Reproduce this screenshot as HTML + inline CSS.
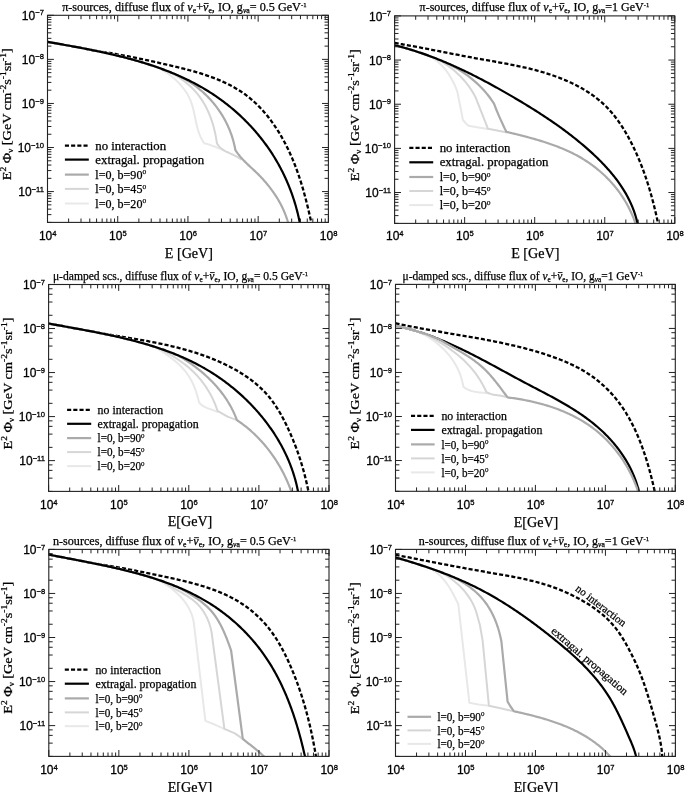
<!DOCTYPE html><html><head><meta charset="utf-8"><style>html,body{margin:0;padding:0;background:#fff;overflow:hidden;width:685px;height:792px;}svg{display:block;transform:translateZ(0)}.serif{font-family:"Liberation Serif",serif;stroke:#000;stroke-width:0.25px}.sans{font-family:"Liberation Sans",sans-serif;stroke:#000;stroke-width:0.3px}</style></head><body>
<svg width="685" height="792" viewBox="0 0 685 792">
<g><clipPath id="c0"><rect x="47.5" y="15.3" width="280.9" height="207.1"/></clipPath><g clip-path="url(#c0)" fill="none" stroke-linejoin="round"><path d="M47.5,41.9L48.95,42.15 50.4,42.4 51.85,42.66 53.31,42.91 54.77,43.17 56.23,43.42 57.69,43.68 59.15,43.93 60.62,44.19 62.09,44.45 63.55,44.71 65.03,44.98 66.5,45.24 67.97,45.5 69.45,45.77 70.93,46.04 72.4,46.31 73.88,46.58 75.37,46.85 76.85,47.13 78.33,47.4 79.81,47.68 81.3,47.97 82.79,48.25 84.27,48.54 85.76,48.82 87.25,49.12 88.74,49.41 90.22,49.71 91.71,50 93.2,50.31 94.69,50.61 96.18,50.92 97.7,51.13 99.22,51.35 100.73,51.57 102.24,51.8 103.74,52.03 105.25,52.26 106.75,52.5 108.24,52.74 109.73,52.99 111.23,53.23 112.71,53.49 114.2,53.74 115.68,54 117.16,54.26 118.64,54.53 120.12,54.8 121.6,55.07 123.07,55.34 124.54,55.62 126.02,55.9 127.49,56.19 128.96,56.47 130.42,56.76 131.89,57.06 133.36,57.35 134.82,57.65 136.29,57.95 137.75,58.25 139.22,58.56 140.68,58.86 142.15,59.17 143.61,59.49 145.08,59.8 146.55,60.12 148.01,60.44 149.48,60.76 150.95,61.08 152.42,61.41 153.89,61.73 155.36,62.06 156.83,62.39 158.31,62.72 159.78,63.06 161.26,63.39 162.74,63.73 164.22,64.07 165.71,64.4 167.19,64.75 168.68,65.09 170.17,65.43 171.66,65.78 173.15,66.13 174.65,66.48 176.14,66.84 177.63,67.2 179.13,67.56 180.62,67.93 182.11,68.3 183.6,68.68 185.09,69.06 186.58,69.45 188.07,69.84 189.56,70.24 191.04,70.64 192.52,71.05 194,71.47 195.48,71.89 196.95,72.32 198.42,72.76 199.89,73.21 201.35,73.66 202.81,74.12 204.26,74.59 205.71,75.07 207.16,75.56 208.6,76.06 210.03,76.56 211.46,77.08 212.88,77.61 214.3,78.15 215.71,78.7 217.11,79.26 218.51,79.83 219.9,80.41 221.28,81 222.65,81.61 224.02,82.23 225.38,82.86 226.73,83.5 228.07,84.16 229.4,84.83 230.72,85.52 232.04,86.22 233.34,86.93 234.63,87.66 235.92,88.4 237.19,89.16 238.45,89.93 239.7,90.72 240.94,91.53 242.17,92.35 243.39,93.19 244.59,94.04 245.79,94.92 246.97,95.81 248.13,96.71 249.29,97.64 250.43,98.57 251.57,99.53 252.68,100.5 253.79,101.49 254.89,102.49 255.97,103.5 257.04,104.53 258.1,105.58 259.15,106.64 260.18,107.71 261.21,108.8 262.22,109.9 263.22,111.01 264.21,112.14 265.19,113.28 266.15,114.43 267.11,115.59 268.05,116.76 268.98,117.95 269.9,119.15 270.81,120.35 271.71,121.57 272.59,122.8 273.47,124.04 274.33,125.29 275.18,126.54 276.03,127.81 276.86,129.09 277.68,130.37 278.48,131.66 279.28,132.96 280.07,134.27 280.85,135.59 281.61,136.91 282.37,138.25 283.11,139.58 283.84,140.93 284.57,142.28 285.28,143.63 285.98,145 286.67,146.36 287.35,147.74 288.02,149.11 288.68,150.5 289.33,151.88 289.97,153.28 290.6,154.67 291.22,156.07 291.83,157.47 292.43,158.87 293.02,160.28 293.6,161.69 294.17,163.1 294.73,164.52 295.28,165.94 295.82,167.35 296.35,168.78 296.87,170.2 297.39,171.63 297.89,173.05 298.39,174.49 298.88,175.92 299.36,177.35 299.84,178.79 300.3,180.23 300.76,181.67 301.21,183.11 301.66,184.55 302.09,186 302.52,187.44 302.95,188.89 303.37,190.34 303.78,191.79 304.18,193.25 304.58,194.7 304.97,196.16 305.36,197.61 305.74,199.07 306.12,200.53 306.49,201.99 306.86,203.45 307.23,204.92 307.58,206.38 307.94,207.84 308.29,209.31 308.63,210.78 308.98,212.24 309.32,213.71 309.65,215.18 309.98,216.65 310.31,218.12 310.64,219.59 310.96,221.06 311.28,222.53 311.6,224" style="stroke:#000;stroke-width:2.3;stroke-dasharray:4.1 2.1"/><path d="M47.5,41.9L48.95,42.15 50.4,42.4 51.85,42.66 53.31,42.91 54.77,43.17 56.23,43.42 57.69,43.68 59.15,43.93 60.62,44.19 62.09,44.45 63.55,44.71 65.03,44.98 66.5,45.24 67.97,45.5 69.45,45.77 70.93,46.04 72.4,46.31 73.88,46.58 75.37,46.85 76.85,47.13 78.33,47.4 79.81,47.68 81.3,47.97 82.79,48.25 84.27,48.54 85.76,48.82 87.25,49.12 88.74,49.41 90.22,49.71 91.71,50 93.2,50.31 94.69,50.61 96.18,50.92 97.67,51.23 99.16,51.54 100.65,51.86 102.14,52.18 103.63,52.5 105.12,52.83 106.61,53.16 108.1,53.49 109.59,53.83 111.08,54.17 112.57,54.52 114.05,54.87 115.54,55.22 117.02,55.58 118.51,55.94 119.99,56.31 121.47,56.68 122.96,57.05 124.44,57.43 125.91,57.81 127.39,58.2 128.87,58.59 130.34,58.99 131.82,59.39 133.29,59.8 134.76,60.21 136.22,60.63 137.69,61.05 139.15,61.48 140.62,61.91 142.08,62.35 143.53,62.79 144.99,63.24 146.44,63.7 147.9,64.16 149.34,64.62 150.79,65.1 152.23,65.57 153.68,66.06 155.11,66.55 156.55,67.05 157.98,67.55 159.3,68.25 160.61,68.99 161.92,69.75 163.22,70.53 164.52,71.35 165.8,72.19 167.08,73.05 168.34,73.94 169.59,74.86 170.82,75.8 172.04,76.77 173.24,77.76 174.42,78.78 175.58,79.82 176.72,80.88 177.83,81.97 178.92,83.08 179.98,84.22 181.02,85.37 182.02,86.55 182.99,87.76 183.93,88.98 184.84,90.23 185.71,91.5 186.54,92.79 187.34,94.1 188.09,95.44 188.81,96.79 189.48,98.16 190.11,99.56 190.69,100.97 191.23,102.41 191.72,103.86 192.19,105.32 192.62,106.8 193.02,108.29 193.4,109.79 193.76,111.3 194.1,112.82 194.43,114.34 194.75,115.86 195.07,117.39 195.38,118.91 195.7,120.44 196.02,121.96 196.35,123.47 196.7,124.98 197.07,126.48 197.45,127.97 197.86,129.45 198.3,130.91 198.78,132.36 199.28,133.79 199.84,135.21 200.43,136.6 201.07,137.97 201.77,139.32 202.52,140.64 203.33,141.93 204.2,143.2L205.28,143.47 206.35,143.77 207.41,144.08 208.47,144.4 209.52,144.75 210.57,145.11 211.61,145.48 212.65,145.86 213.69,146.25 214.72,146.64 215.76,147.05 216.79,147.46 217.81,147.87 218.84,148.28 219.87,148.69 220.9,149.1 221.93,149.51 222.96,149.91 224,150.3" style="stroke:#e8e8e8;stroke-width:2"/><path d="M47.5,41.9L48.95,42.15 50.4,42.4 51.85,42.66 53.31,42.91 54.77,43.17 56.23,43.42 57.69,43.68 59.15,43.93 60.62,44.19 62.09,44.45 63.55,44.71 65.03,44.98 66.5,45.24 67.97,45.5 69.45,45.77 70.93,46.04 72.4,46.31 73.88,46.58 75.37,46.85 76.85,47.13 78.33,47.4 79.81,47.68 81.3,47.97 82.79,48.25 84.27,48.54 85.76,48.82 87.25,49.12 88.74,49.41 90.22,49.71 91.71,50 93.2,50.31 94.69,50.61 96.18,50.92 97.67,51.23 99.16,51.54 100.65,51.86 102.14,52.18 103.63,52.5 105.12,52.83 106.61,53.16 108.1,53.49 109.59,53.83 111.08,54.17 112.57,54.52 114.05,54.87 115.54,55.22 117.02,55.58 118.51,55.94 119.99,56.31 121.47,56.68 122.96,57.05 124.44,57.43 125.91,57.81 127.39,58.2 128.87,58.59 130.34,58.99 131.82,59.39 133.29,59.8 134.76,60.21 136.22,60.63 137.69,61.05 139.15,61.48 140.62,61.91 142.08,62.35 143.53,62.79 144.99,63.24 146.44,63.7 147.9,64.16 149.34,64.62 150.79,65.1 152.23,65.57 153.68,66.06 155.11,66.55 156.55,67.05 157.98,67.55 159.41,68.06 160.84,68.57 162.26,69.1 163.73,69.65 165.19,70.23 166.64,70.84 168.07,71.47 169.49,72.13 170.89,72.82 172.28,73.53 173.65,74.26 175,75.02 176.35,75.8 177.67,76.61 178.98,77.44 180.27,78.29 181.54,79.17 182.79,80.07 184.03,80.99 185.24,81.94 186.44,82.91 187.62,83.9 188.77,84.91 189.91,85.94 191.02,86.99 192.12,88.06 193.19,89.16 194.24,90.27 195.27,91.4 196.27,92.56 197.25,93.73 198.21,94.92 199.14,96.13 200.05,97.36 200.93,98.6 201.79,99.86 202.62,101.15 203.43,102.44 204.21,103.76 204.96,105.09 205.69,106.43 206.4,107.79 207.08,109.17 207.74,110.56 208.38,111.96 208.99,113.37 209.58,114.79 210.14,116.22 210.69,117.67 211.21,119.12 211.71,120.59 212.19,122.06 212.65,123.54 213.09,125.02 213.51,126.52 213.91,128.02 214.29,129.52 214.65,131.03 215,132.54 215.32,134.06 215.63,135.58 215.92,137.1 216.19,138.63 216.44,140.15 216.68,141.68 216.9,143.2L217.76,144.64 218.73,145.95 219.79,147.12 220.93,148.18 222.15,149.15 223.43,150.02 224.76,150.82 226.14,151.57 227.55,152.26 228.98,152.93 230.43,153.58 231.89,154.22 233.34,154.88 234.77,155.56 236.19,156.28 237.57,157.05 238.9,157.88 240.18,158.79 241.4,159.8" style="stroke:#d6d6d6;stroke-width:2"/><path d="M47.5,41.9L48.95,42.15 50.4,42.4 51.85,42.66 53.31,42.91 54.77,43.17 56.23,43.42 57.69,43.68 59.15,43.93 60.62,44.19 62.09,44.45 63.55,44.71 65.03,44.98 66.5,45.24 67.97,45.5 69.45,45.77 70.93,46.04 72.4,46.31 73.88,46.58 75.37,46.85 76.85,47.13 78.33,47.4 79.81,47.68 81.3,47.97 82.79,48.25 84.27,48.54 85.76,48.82 87.25,49.12 88.74,49.41 90.22,49.71 91.71,50 93.2,50.31 94.69,50.61 96.18,50.92 97.67,51.23 99.16,51.54 100.65,51.86 102.14,52.18 103.63,52.5 105.12,52.83 106.61,53.16 108.1,53.49 109.59,53.83 111.08,54.17 112.57,54.52 114.05,54.87 115.54,55.22 117.02,55.58 118.51,55.94 119.99,56.31 121.47,56.68 122.96,57.05 124.44,57.43 125.91,57.81 127.39,58.2 128.87,58.59 130.34,58.99 131.82,59.39 133.29,59.8 134.76,60.21 136.22,60.63 137.69,61.05 139.15,61.48 140.62,61.91 142.08,62.35 143.53,62.79 144.99,63.24 146.44,63.7 147.9,64.16 149.34,64.62 150.79,65.1 152.23,65.57 153.68,66.06 155.11,66.55 156.55,67.05 157.98,67.55 159.41,68.06 160.84,68.57 162.26,69.1 163.68,69.62 165.1,70.16 166.52,70.7 167.93,71.25 169.33,71.81 170.74,72.37 172.17,72.93 173.59,73.51 175,74.12 176.4,74.74 177.79,75.39 179.17,76.05 180.54,76.74 181.9,77.44 183.25,78.17 184.58,78.91 185.91,79.68 187.22,80.46 188.52,81.27 189.81,82.09 191.08,82.93 192.34,83.79 193.59,84.66 194.83,85.56 196.05,86.47 197.26,87.4 198.46,88.35 199.64,89.31 200.8,90.29 201.96,91.29 203.09,92.3 204.22,93.33 205.32,94.38 206.42,95.44 207.49,96.52 208.55,97.61 209.6,98.72 210.63,99.84 211.64,100.98 212.64,102.13 213.61,103.29 214.58,104.47 215.52,105.67 216.45,106.87 217.36,108.09 218.25,109.33 219.12,110.57 219.97,111.83 220.81,113.1 221.63,114.38 222.43,115.68 223.2,116.99 223.96,118.31 224.7,119.64 225.42,120.98 226.12,122.33 226.8,123.69 227.46,125.06 228.1,126.45 228.71,127.84 229.31,129.24 229.88,130.66 230.44,132.08 230.97,133.51 231.48,134.95 231.96,136.4 232.43,137.86 232.87,139.32 233.28,140.8 233.68,142.28 234.05,143.77 234.4,145.27 234.72,146.77 235.02,148.28 235.3,149.8L236.11,151.1 236.97,152.36 237.86,153.6 238.78,154.81 239.74,156 240.72,157.16 241.73,158.3 242.76,159.42 243.81,160.53 244.89,161.62 245.97,162.7 247.07,163.78 248.19,164.84 249.31,165.9 250.43,166.95 251.56,168 252.69,169.06 253.82,170.11 254.95,171.17 256.07,172.24 257.18,173.32 258.28,174.4 259.37,175.5 260.44,176.61 261.51,177.73 262.56,178.86 263.6,180.01 264.63,181.16 265.64,182.32 266.64,183.5 267.63,184.69 268.6,185.88 269.56,187.09 270.5,188.31 271.42,189.54 272.33,190.79 273.23,192.04 274.1,193.3 274.96,194.58 275.81,195.87 276.63,197.17 277.44,198.48 278.23,199.8 279,201.13 279.75,202.47 280.48,203.83 281.19,205.19 281.89,206.57 282.56,207.96 283.21,209.36 283.84,210.77 284.45,212.2 285.03,213.63 285.6,215.08 286.14,216.54 286.66,218.01 287.16,219.49 287.63,220.98 288.08,222.48 288.5,224" style="stroke:#aaaaaa;stroke-width:2.2"/><path d="M47.5,41.9L48.95,42.15 50.4,42.4 51.85,42.66 53.31,42.91 54.77,43.17 56.23,43.42 57.69,43.68 59.15,43.93 60.62,44.19 62.09,44.45 63.55,44.71 65.03,44.98 66.5,45.24 67.97,45.5 69.45,45.77 70.93,46.04 72.4,46.31 73.88,46.58 75.37,46.85 76.85,47.13 78.33,47.4 79.81,47.68 81.3,47.97 82.79,48.25 84.27,48.54 85.76,48.82 87.25,49.12 88.74,49.41 90.22,49.71 91.71,50 93.2,50.31 94.69,50.61 96.18,50.92 97.67,51.23 99.16,51.54 100.65,51.86 102.14,52.18 103.63,52.5 105.12,52.83 106.61,53.16 108.1,53.49 109.59,53.83 111.08,54.17 112.57,54.52 114.05,54.87 115.54,55.22 117.02,55.58 118.51,55.94 119.99,56.31 121.47,56.68 122.96,57.05 124.44,57.43 125.91,57.81 127.39,58.2 128.87,58.59 130.34,58.99 131.82,59.39 133.29,59.8 134.76,60.21 136.22,60.63 137.69,61.05 139.15,61.48 140.62,61.91 142.08,62.35 143.53,62.79 144.99,63.24 146.44,63.7 147.9,64.16 149.34,64.62 150.79,65.1 152.23,65.57 153.68,66.06 155.11,66.55 156.55,67.05 157.98,67.55 159.41,68.06 160.84,68.57 162.26,69.1 163.68,69.62 165.1,70.16 166.52,70.7 167.93,71.25 169.33,71.81 170.74,72.37 172.14,72.94 173.54,73.51 174.93,74.1 176.32,74.69 177.7,75.29 179.09,75.89 180.46,76.51 181.84,77.13 183.21,77.76 184.57,78.4 185.93,79.04 187.29,79.69 188.64,80.35 189.99,81.02 191.33,81.7 192.67,82.38 194,83.08 195.33,83.78 196.66,84.49 197.98,85.21 199.29,85.93 200.6,86.67 201.9,87.41 203.2,88.17 204.5,88.93 205.78,89.7 207.07,90.48 208.34,91.27 209.62,92.07 210.88,92.88 212.14,93.69 213.4,94.52 214.64,95.36 215.89,96.2 217.12,97.05 218.35,97.92 219.58,98.79 220.8,99.67 222.01,100.56 223.21,101.45 224.41,102.36 225.61,103.27 226.79,104.2 227.97,105.13 229.15,106.07 230.31,107.02 231.47,107.98 232.62,108.94 233.77,109.92 234.91,110.9 236.04,111.89 237.16,112.89 238.28,113.89 239.39,114.91 240.49,115.93 241.59,116.96 242.67,118 243.75,119.05 244.83,120.11 245.89,121.17 246.95,122.24 248,123.32 249.04,124.41 250.07,125.5 251.09,126.6 252.11,127.71 253.12,128.83 254.12,129.95 255.11,131.08 256.09,132.22 257.07,133.37 258.04,134.52 258.99,135.69 259.94,136.86 260.88,138.03 261.81,139.21 262.74,140.4 263.65,141.6 264.55,142.81 265.45,144.02 266.34,145.24 267.21,146.46 268.08,147.69 268.94,148.93 269.79,150.18 270.63,151.43 271.46,152.69 272.28,153.96 273.09,155.23 273.89,156.51 274.68,157.79 275.46,159.08 276.23,160.38 276.99,161.69 277.74,163 278.48,164.32 279.21,165.64 279.93,166.97 280.64,168.3 281.34,169.64 282.03,170.99 282.71,172.34 283.38,173.7 284.04,175.06 284.69,176.43 285.33,177.81 285.95,179.19 286.57,180.57 287.18,181.96 287.77,183.35 288.36,184.75 288.93,186.15 289.49,187.56 290.05,188.97 290.59,190.39 291.12,191.81 291.64,193.24 292.15,194.67 292.65,196.1 293.14,197.54 293.61,198.98 294.08,200.43 294.53,201.88 294.98,203.33 295.41,204.79 295.83,206.25 296.24,207.71 296.64,209.18 297.03,210.65 297.4,212.12 297.77,213.59 298.12,215.07 298.46,216.55 298.79,218.04 299.11,219.53 299.42,221.02 299.71,222.51 300,224" style="stroke:#000;stroke-width:2.2"/></g><path d="M47.5,222.4v-6.4M47.5,15.3v6.4M68.64,222.4v-3.9M68.64,15.3v3.9M81.01,222.4v-3.9M81.01,15.3v3.9M89.78,222.4v-3.9M89.78,15.3v3.9M96.59,222.4v-3.9M96.59,15.3v3.9M102.15,222.4v-3.9M102.15,15.3v3.9M106.85,222.4v-3.9M106.85,15.3v3.9M110.92,222.4v-3.9M110.92,15.3v3.9M114.51,222.4v-3.9M114.51,15.3v3.9M117.72,222.4v-6.4M117.72,15.3v6.4M138.86,222.4v-3.9M138.86,15.3v3.9M151.23,222.4v-3.9M151.23,15.3v3.9M160,222.4v-3.9M160,15.3v3.9M166.81,222.4v-3.9M166.81,15.3v3.9M172.37,222.4v-3.9M172.37,15.3v3.9M177.07,222.4v-3.9M177.07,15.3v3.9M181.14,222.4v-3.9M181.14,15.3v3.9M184.74,222.4v-3.9M184.74,15.3v3.9M187.95,222.4v-6.4M187.95,15.3v6.4M209.09,222.4v-3.9M209.09,15.3v3.9M221.46,222.4v-3.9M221.46,15.3v3.9M230.23,222.4v-3.9M230.23,15.3v3.9M237.04,222.4v-3.9M237.04,15.3v3.9M242.6,222.4v-3.9M242.6,15.3v3.9M247.3,222.4v-3.9M247.3,15.3v3.9M251.37,222.4v-3.9M251.37,15.3v3.9M254.96,222.4v-3.9M254.96,15.3v3.9M258.17,222.4v-6.4M258.17,15.3v6.4M279.31,222.4v-3.9M279.31,15.3v3.9M291.68,222.4v-3.9M291.68,15.3v3.9M300.45,222.4v-3.9M300.45,15.3v3.9M307.26,222.4v-3.9M307.26,15.3v3.9M312.82,222.4v-3.9M312.82,15.3v3.9M317.52,222.4v-3.9M317.52,15.3v3.9M321.59,222.4v-3.9M321.59,15.3v3.9M325.19,222.4v-3.9M325.19,15.3v3.9M328.4,222.4v-6.4M328.4,15.3v6.4M47.5,222.4h3.9M328.4,222.4h-3.9M47.5,214.64h3.9M328.4,214.64h-3.9M47.5,209.13h3.9M328.4,209.13h-3.9M47.5,204.86h3.9M328.4,204.86h-3.9M47.5,201.37h3.9M328.4,201.37h-3.9M47.5,198.42h3.9M328.4,198.42h-3.9M47.5,195.87h3.9M328.4,195.87h-3.9M47.5,193.61h3.9M328.4,193.61h-3.9M47.5,191.59h6.4M328.4,191.59h-6.4M47.5,178.33h3.9M328.4,178.33h-3.9M47.5,170.57h3.9M328.4,170.57h-3.9M47.5,165.06h3.9M328.4,165.06h-3.9M47.5,160.79h3.9M328.4,160.79h-3.9M47.5,157.3h3.9M328.4,157.3h-3.9M47.5,154.35h3.9M328.4,154.35h-3.9M47.5,151.79h3.9M328.4,151.79h-3.9M47.5,149.54h3.9M328.4,149.54h-3.9M47.5,147.52h6.4M328.4,147.52h-6.4M47.5,134.25h3.9M328.4,134.25h-3.9M47.5,126.49h3.9M328.4,126.49h-3.9M47.5,120.99h3.9M328.4,120.99h-3.9M47.5,116.71h3.9M328.4,116.71h-3.9M47.5,113.22h3.9M328.4,113.22h-3.9M47.5,110.27h3.9M328.4,110.27h-3.9M47.5,107.72h3.9M328.4,107.72h-3.9M47.5,105.46h3.9M328.4,105.46h-3.9M47.5,103.45h6.4M328.4,103.45h-6.4M47.5,90.18h3.9M328.4,90.18h-3.9M47.5,82.42h3.9M328.4,82.42h-3.9M47.5,76.91h3.9M328.4,76.91h-3.9M47.5,72.64h3.9M328.4,72.64h-3.9M47.5,69.15h3.9M328.4,69.15h-3.9M47.5,66.2h3.9M328.4,66.2h-3.9M47.5,63.64h3.9M328.4,63.64h-3.9M47.5,61.39h3.9M328.4,61.39h-3.9M47.5,59.37h6.4M328.4,59.37h-6.4M47.5,46.11h3.9M328.4,46.11h-3.9M47.5,38.35h3.9M328.4,38.35h-3.9M47.5,32.84h3.9M328.4,32.84h-3.9M47.5,28.57h3.9M328.4,28.57h-3.9M47.5,25.08h3.9M328.4,25.08h-3.9M47.5,22.13h3.9M328.4,22.13h-3.9M47.5,19.57h3.9M328.4,19.57h-3.9M47.5,17.32h3.9M328.4,17.32h-3.9M47.5,15.3h6.4M328.4,15.3h-6.4" stroke="#222" stroke-width="1" fill="none"/><rect x="47.5" y="15.3" width="280.9" height="207.1" fill="none" stroke="#222" stroke-width="1.1"/><text class="sans" x="38.9" y="239.5" font-size="12">10<tspan font-size="7.6" dy="-3.9">4</tspan></text><text class="sans" x="109.12" y="239.5" font-size="12">10<tspan font-size="7.6" dy="-3.9">5</tspan></text><text class="sans" x="179.35" y="239.5" font-size="12">10<tspan font-size="7.6" dy="-3.9">6</tspan></text><text class="sans" x="249.57" y="239.5" font-size="12">10<tspan font-size="7.6" dy="-3.9">7</tspan></text><text class="sans" x="319.8" y="239.5" font-size="12">10<tspan font-size="7.6" dy="-3.9">8</tspan></text><text class="sans" x="43.9" y="196.39" font-size="12" text-anchor="end">10<tspan font-size="7.6" dy="-4.7">−11</tspan></text><text class="sans" x="43.9" y="152.32" font-size="12" text-anchor="end">10<tspan font-size="7.6" dy="-4.7">−10</tspan></text><text class="sans" x="43.9" y="108.25" font-size="12" text-anchor="end">10<tspan font-size="7.6" dy="-4.7">−9</tspan></text><text class="sans" x="43.9" y="64.17" font-size="12" text-anchor="end">10<tspan font-size="7.6" dy="-4.7">−8</tspan></text><text class="sans" x="43.9" y="20.1" font-size="12" text-anchor="end">10<tspan font-size="7.6" dy="-4.7">−7</tspan></text><text class="serif ttl" x="62.2" y="10.7" font-size="11.8" textLength="244.3" lengthAdjust="spacingAndGlyphs">π-sources, diffuse flux of <tspan font-style="italic">ν</tspan><tspan font-size="7.5" dy="2">e</tspan><tspan dy="-2">+</tspan><tspan font-style="italic">ν</tspan><tspan font-size="7.5" dy="2">e</tspan><tspan dy="-2">, IO, g</tspan><tspan font-size="7.5" dy="2"><tspan font-style="italic">ν</tspan>a</tspan><tspan dy="-2">= 0.5 GeV</tspan><tspan font-size="6.5" dy="-3.6">-1</tspan></text><text class="serif" x="188.9" y="257.6" font-size="14.1" text-anchor="middle">E [GeV]</text><text class="serif" transform="translate(11.2,114.3) rotate(-90)" font-size="13.5" text-anchor="middle" textLength="132" lengthAdjust="spacingAndGlyphs">E<tspan font-size="9" dy="-5">2</tspan><tspan dy="5"> Φ</tspan><tspan font-size="8.5" dy="2">ν</tspan><tspan dy="-2"> [GeV cm</tspan><tspan font-size="9" dy="-5">-2</tspan><tspan dy="5">s</tspan><tspan font-size="9" dy="-5">-1</tspan><tspan dy="5">sr</tspan><tspan font-size="9" dy="-5">-1</tspan><tspan dy="5">]</tspan></text></g>
<g><clipPath id="c1"><rect x="394.6" y="15.9" width="280.2" height="207.5"/></clipPath><g clip-path="url(#c1)" fill="none" stroke-linejoin="round"><path d="M394.6,43L396.11,43.25 397.61,43.49 399.12,43.75 400.62,44 402.12,44.25 403.61,44.51 405.11,44.77 406.6,45.04 408.1,45.3 409.59,45.57 411.08,45.84 412.56,46.11 414.05,46.38 415.54,46.66 417.02,46.93 418.5,47.21 419.98,47.49 421.47,47.77 422.94,48.05 424.42,48.34 425.9,48.62 427.38,48.9 428.85,49.19 430.33,49.48 431.81,49.77 433.28,50.05 434.75,50.34 436.23,50.63 437.7,50.92 439.17,51.21 440.65,51.5 442.12,51.79 443.59,52.08 445.07,52.37 446.54,52.66 448.01,52.95 449.49,53.24 450.96,53.53 452.43,53.82 453.91,54.11 455.38,54.4 456.86,54.69 458.34,54.97 459.81,55.26 461.29,55.54 462.77,55.82 464.25,56.11 465.73,56.39 467.21,56.67 468.69,56.94 470.18,57.22 471.66,57.49 473.15,57.77 474.64,58.04 476.12,58.31 477.62,58.58 479.11,58.84 480.6,59.11 482.09,59.37 483.59,59.64 485.08,59.9 486.58,60.16 488.07,60.43 489.57,60.69 491.07,60.96 492.57,61.22 494.06,61.49 495.56,61.75 497.06,62.02 498.56,62.29 500.06,62.57 501.55,62.84 503.05,63.12 504.55,63.4 506.04,63.68 507.54,63.96 509.03,64.25 510.52,64.54 512.02,64.84 513.51,65.14 515,65.44 516.49,65.75 517.98,66.06 519.46,66.37 520.95,66.7 522.43,67.02 523.91,67.36 525.39,67.69 526.87,68.04 528.34,68.39 529.82,68.74 531.29,69.1 532.76,69.47 534.22,69.85 535.69,70.23 537.15,70.63 538.6,71.02 540.06,71.43 541.51,71.84 542.96,72.27 544.41,72.7 545.85,73.14 547.29,73.59 548.73,74.05 550.16,74.51 551.59,74.99 553.02,75.48 554.44,75.98 555.86,76.48 557.27,77 558.68,77.53 560.09,78.07 561.49,78.62 562.88,79.18 564.28,79.76 565.67,80.35 567.05,80.94 568.43,81.55 569.8,82.18 571.17,82.81 572.53,83.46 573.89,84.12 575.23,84.8 576.58,85.48 577.91,86.18 579.24,86.9 580.56,87.62 581.87,88.36 583.17,89.12 584.46,89.89 585.75,90.67 587.02,91.47 588.29,92.28 589.54,93.1 590.78,93.94 592.01,94.8 593.23,95.67 594.44,96.55 595.63,97.45 596.82,98.36 597.99,99.29 599.14,100.24 600.29,101.2 601.42,102.18 602.53,103.17 603.63,104.18 604.72,105.2 605.79,106.24 606.84,107.3 607.88,108.37 608.9,109.46 609.91,110.57 610.9,111.69 611.88,112.82 612.85,113.97 613.8,115.13 614.73,116.3 615.65,117.49 616.56,118.68 617.46,119.9 618.34,121.12 619.21,122.35 620.07,123.59 620.91,124.85 621.74,126.11 622.56,127.39 623.37,128.67 624.17,129.96 624.95,131.26 625.73,132.57 626.49,133.89 627.24,135.21 627.98,136.54 628.72,137.88 629.44,139.22 630.15,140.57 630.85,141.92 631.54,143.28 632.23,144.64 632.9,146 633.57,147.37 634.22,148.75 634.87,150.13 635.51,151.51 636.14,152.9 636.76,154.29 637.37,155.68 637.98,157.08 638.57,158.48 639.16,159.89 639.74,161.29 640.31,162.7 640.87,164.12 641.43,165.54 641.98,166.96 642.52,168.38 643.05,169.8 643.57,171.23 644.09,172.66 644.6,174.09 645.1,175.53 645.59,176.97 646.08,178.41 646.56,179.85 647.04,181.29 647.5,182.74 647.96,184.18 648.41,185.63 648.86,187.08 649.3,188.53 649.73,189.99 650.16,191.44 650.58,192.9 650.99,194.35 651.4,195.81 651.8,197.27 652.2,198.73 652.59,200.19 652.97,201.65 653.35,203.11 653.73,204.57 654.09,206.03 654.45,207.49 654.81,208.95 655.16,210.41 655.51,211.87 655.85,213.33 656.18,214.79 656.52,216.25 656.84,217.71 657.16,219.17 657.48,220.63 657.79,222.09 658.1,223.54 658.4,225" style="stroke:#000;stroke-width:2.3;stroke-dasharray:4.1 2.1"/><path d="M394.6,45.2L396.08,45.57 397.55,45.95 399.02,46.33 400.49,46.72 401.95,47.12 403.42,47.53 404.88,47.94 406.33,48.36 407.78,48.78 409.23,49.21 410.68,49.65 412.13,50.1 413.57,50.55 415.01,51.01 416.44,51.47 417.88,51.94 419.31,52.42 420.73,52.9 422.16,53.39 423.58,53.88 425,54.38 426.42,54.89 427.83,55.4 429.29,56.11 430.71,56.86 432.1,57.66 433.45,58.51 434.76,59.41 436.04,60.35 437.29,61.33 438.5,62.35 439.68,63.41 440.82,64.51 441.93,65.64 443.01,66.8 444.06,68 445.07,69.22 446.06,70.48 447.01,71.76 447.93,73.06 448.82,74.39 449.68,75.74 450.52,77.11 451.32,78.5 452.09,79.9 452.84,81.32 453.56,82.75 454.25,84.19 454.91,85.64 455.55,87.1 456.16,88.56 456.74,90.03 457.3,91.5L461.4,112 462.9,120L466,123.5 468.5,125.8L478.4,127.4 487.9,128.9" style="stroke:#e8e8e8;stroke-width:2"/><path d="M394.6,45.2L396.08,45.57 397.55,45.95 399.02,46.33 400.49,46.72 401.95,47.12 403.42,47.53 404.88,47.94 406.33,48.36 407.78,48.78 409.23,49.21 410.68,49.65 412.13,50.1 413.57,50.55 415.01,51.01 416.44,51.47 417.88,51.94 419.31,52.42 420.73,52.9 422.16,53.39 423.58,53.88 425,54.38 426.42,54.89 427.83,55.4 429.25,55.92 430.66,56.45 432.06,56.97 433.47,57.51 434.87,58.05 436.27,58.6 437.65,59.32 439.01,60.07 440.37,60.84 441.71,61.64 443.05,62.46 444.37,63.3 445.67,64.17 446.97,65.05 448.25,65.96 449.51,66.89 450.76,67.84 452,68.81 453.21,69.8 454.42,70.81 455.6,71.84 456.77,72.9 457.92,73.97 459.05,75.06 460.17,76.16 461.26,77.29 462.33,78.44 463.39,79.6 464.42,80.78 465.43,81.98 466.42,83.19 467.38,84.43 468.33,85.67 469.25,86.94 470.14,88.22 471.01,89.51 471.86,90.83 472.68,92.15 473.48,93.49 474.24,94.85 474.99,96.22 475.7,97.6L488,128.8L498.4,130.7 507.1,132.4" style="stroke:#d6d6d6;stroke-width:2"/><path d="M394.6,45.2L396.08,45.57 397.55,45.95 399.02,46.33 400.49,46.72 401.95,47.12 403.42,47.53 404.88,47.94 406.33,48.36 407.78,48.78 409.23,49.21 410.68,49.65 412.13,50.1 413.57,50.55 415.01,51.01 416.44,51.47 417.88,51.94 419.31,52.42 420.73,52.9 422.16,53.39 423.58,53.88 425,54.38 426.42,54.89 427.83,55.4 429.25,55.92 430.66,56.45 432.06,56.97 433.47,57.51 434.87,58.05 436.27,58.6 437.67,59.15 439.06,59.7 440.45,60.27 441.85,60.83 443.23,61.41 444.65,62.05 446.05,62.71 447.45,63.38 448.85,64.07 450.23,64.78 451.61,65.5 452.98,66.25 454.35,67 455.7,67.78 457.05,68.57 458.38,69.37 459.71,70.2 461.03,71.04 462.33,71.89 463.63,72.77 464.91,73.65 466.19,74.56 467.45,75.48 468.7,76.42 469.93,77.37 471.16,78.34 472.36,79.33 473.56,80.33 474.74,81.35 475.91,82.38 477.06,83.43 478.2,84.5 479.32,85.58 480.42,86.67 481.51,87.79 482.58,88.92 483.64,90.06 484.68,91.22 485.7,92.4 486.7,93.59 487.68,94.8 488.64,96.03 489.59,97.27 490.51,98.52 491.41,99.79 492.3,101.08 493.16,102.38 494,103.7L494.57,105.21 495.15,106.72 495.75,108.22 496.35,109.72 496.97,111.21 497.59,112.7 498.22,114.19 498.86,115.67 499.51,117.15 500.17,118.62 500.83,120.1 501.5,121.57 502.17,123.03 502.85,124.5 503.53,125.96 504.22,127.43 504.91,128.88 505.6,130.34 506.3,131.8L507.74,132.15 509.19,132.5 510.64,132.85 512.1,133.21 513.55,133.56 515.01,133.92 516.47,134.28 517.94,134.65 519.4,135.01 520.87,135.38 522.34,135.76 523.81,136.14 525.28,136.52 526.75,136.91 528.22,137.3 529.69,137.7 531.16,138.1 532.63,138.51 534.1,138.92 535.57,139.34 537.04,139.77 538.51,140.2 539.97,140.64 541.43,141.09 542.89,141.55 544.35,142.01 545.81,142.48 547.26,142.96 548.71,143.44 550.16,143.94 551.6,144.44 553.04,144.96 554.47,145.48 555.9,146.01 557.33,146.55 558.75,147.11 560.16,147.67 561.57,148.24 562.97,148.83 564.37,149.43 565.76,150.03 567.15,150.65 568.53,151.28 569.9,151.93 571.26,152.58 572.62,153.25 573.97,153.93 575.31,154.63 576.65,155.34 577.97,156.06 579.29,156.8 580.59,157.55 581.89,158.31 583.18,159.09 584.46,159.89 585.73,160.7 586.99,161.52 588.24,162.35 589.48,163.2 590.71,164.07 591.93,164.95 593.13,165.84 594.33,166.75 595.52,167.66 596.69,168.6 597.86,169.54 599.01,170.5 600.15,171.48 601.28,172.46 602.4,173.46 603.51,174.48 604.6,175.5 605.68,176.54 606.75,177.6 607.8,178.66 608.85,179.74 609.88,180.83 610.89,181.93 611.9,183.05 612.89,184.18 613.86,185.32 614.83,186.47 615.77,187.64 616.71,188.81 617.63,190 618.53,191.21 619.42,192.42 620.3,193.65 621.16,194.89 622.01,196.14 622.84,197.4 623.65,198.67 624.45,199.96 625.24,201.25 626.01,202.56 626.76,203.88 627.49,205.21 628.21,206.56 628.92,207.91 629.6,209.27 630.27,210.65 630.92,212.04 631.56,213.43 632.18,214.84 632.78,216.26 633.36,217.69 633.92,219.13 634.47,220.58 635,222.05 635.51,223.52 636,225" style="stroke:#aaaaaa;stroke-width:2.2"/><path d="M394.6,45.2L396.08,45.57 397.55,45.95 399.02,46.33 400.49,46.72 401.95,47.12 403.42,47.53 404.88,47.94 406.33,48.36 407.78,48.78 409.23,49.21 410.68,49.65 412.13,50.1 413.57,50.55 415.01,51.01 416.44,51.47 417.88,51.94 419.31,52.42 420.73,52.9 422.16,53.39 423.58,53.88 425,54.38 426.42,54.89 427.83,55.4 429.25,55.92 430.66,56.45 432.06,56.97 433.47,57.51 434.87,58.05 436.27,58.6 437.67,59.15 439.06,59.7 440.45,60.27 441.85,60.83 443.23,61.41 444.62,61.99 446,62.57 447.38,63.16 448.76,63.75 450.14,64.35 451.52,64.95 452.89,65.56 454.26,66.17 455.63,66.79 457,67.41 458.36,68.03 459.72,68.66 461.08,69.3 462.44,69.94 463.8,70.58 465.15,71.23 466.51,71.88 467.86,72.54 469.21,73.2 470.56,73.86 471.9,74.53 473.25,75.2 474.59,75.88 475.93,76.56 477.27,77.24 478.61,77.93 479.94,78.62 481.28,79.31 482.61,80.01 483.94,80.71 485.27,81.42 486.6,82.13 487.93,82.84 489.26,83.55 490.58,84.27 491.9,84.99 493.23,85.71 494.55,86.44 495.86,87.17 497.18,87.9 498.5,88.64 499.82,89.38 501.13,90.12 502.44,90.86 503.75,91.61 505.07,92.36 506.38,93.11 507.68,93.86 508.99,94.62 510.3,95.37 511.6,96.13 512.91,96.9 514.21,97.66 515.52,98.43 516.82,99.2 518.12,99.97 519.42,100.74 520.72,101.52 522.01,102.3 523.31,103.08 524.6,103.86 525.9,104.65 527.19,105.44 528.48,106.23 529.76,107.02 531.05,107.82 532.33,108.62 533.61,109.42 534.89,110.23 536.17,111.04 537.45,111.85 538.72,112.67 539.99,113.49 541.26,114.31 542.53,115.14 543.79,115.97 545.05,116.8 546.31,117.64 547.57,118.48 548.82,119.32 550.07,120.17 551.32,121.02 552.57,121.88 553.81,122.74 555.05,123.6 556.29,124.47 557.52,125.34 558.75,126.22 559.98,127.1 561.2,127.98 562.42,128.87 563.63,129.76 564.85,130.66 566.06,131.56 567.26,132.47 568.46,133.38 569.66,134.29 570.86,135.21 572.05,136.14 573.23,137.07 574.42,138.01 575.59,138.94 576.77,139.89 577.94,140.84 579.1,141.79 580.27,142.76 581.42,143.72 582.57,144.69 583.72,145.67 584.87,146.65 586,147.64 587.14,148.63 588.27,149.63 589.39,150.63 590.51,151.64 591.62,152.66 592.73,153.68 593.84,154.7 594.93,155.74 596.02,156.78 597.11,157.82 598.19,158.87 599.26,159.93 600.32,161 601.38,162.07 602.43,163.15 603.47,164.23 604.5,165.32 605.52,166.42 606.54,167.53 607.54,168.64 608.54,169.77 609.53,170.89 610.5,172.03 611.47,173.18 612.42,174.33 613.36,175.49 614.3,176.66 615.22,177.83 616.13,179.02 617.02,180.21 617.91,181.41 618.78,182.62 619.64,183.84 620.48,185.07 621.31,186.31 622.13,187.55 622.93,188.81 623.72,190.07 624.5,191.35 625.26,192.63 626,193.92 626.73,195.22 627.44,196.54 628.14,197.86 628.81,199.19 629.48,200.53 630.12,201.89 630.75,203.25 631.36,204.62 631.96,206.01 632.53,207.4 633.09,208.8 633.62,210.22 634.14,211.65 634.64,213.09 635.12,214.53 635.58,216 636.02,217.47 636.44,218.95 636.83,220.45 637.21,221.95 637.57,223.47 637.9,225" style="stroke:#000;stroke-width:2.2"/></g><path d="M394.6,223.4v-6.4M394.6,15.9v6.4M415.69,223.4v-3.9M415.69,15.9v3.9M428.02,223.4v-3.9M428.02,15.9v3.9M436.77,223.4v-3.9M436.77,15.9v3.9M443.56,223.4v-3.9M443.56,15.9v3.9M449.11,223.4v-3.9M449.11,15.9v3.9M453.8,223.4v-3.9M453.8,15.9v3.9M457.86,223.4v-3.9M457.86,15.9v3.9M461.44,223.4v-3.9M461.44,15.9v3.9M464.65,223.4v-6.4M464.65,15.9v6.4M485.74,223.4v-3.9M485.74,15.9v3.9M498.07,223.4v-3.9M498.07,15.9v3.9M506.82,223.4v-3.9M506.82,15.9v3.9M513.61,223.4v-3.9M513.61,15.9v3.9M519.16,223.4v-3.9M519.16,15.9v3.9M523.85,223.4v-3.9M523.85,15.9v3.9M527.91,223.4v-3.9M527.91,15.9v3.9M531.49,223.4v-3.9M531.49,15.9v3.9M534.7,223.4v-6.4M534.7,15.9v6.4M555.79,223.4v-3.9M555.79,15.9v3.9M568.12,223.4v-3.9M568.12,15.9v3.9M576.87,223.4v-3.9M576.87,15.9v3.9M583.66,223.4v-3.9M583.66,15.9v3.9M589.21,223.4v-3.9M589.21,15.9v3.9M593.9,223.4v-3.9M593.9,15.9v3.9M597.96,223.4v-3.9M597.96,15.9v3.9M601.54,223.4v-3.9M601.54,15.9v3.9M604.75,223.4v-6.4M604.75,15.9v6.4M625.84,223.4v-3.9M625.84,15.9v3.9M638.17,223.4v-3.9M638.17,15.9v3.9M646.92,223.4v-3.9M646.92,15.9v3.9M653.71,223.4v-3.9M653.71,15.9v3.9M659.26,223.4v-3.9M659.26,15.9v3.9M663.95,223.4v-3.9M663.95,15.9v3.9M668.01,223.4v-3.9M668.01,15.9v3.9M671.59,223.4v-3.9M671.59,15.9v3.9M674.8,223.4v-6.4M674.8,15.9v6.4M394.6,223.4h3.9M674.8,223.4h-3.9M394.6,215.62h3.9M674.8,215.62h-3.9M394.6,210.11h3.9M674.8,210.11h-3.9M394.6,205.83h3.9M674.8,205.83h-3.9M394.6,202.33h3.9M674.8,202.33h-3.9M394.6,199.37h3.9M674.8,199.37h-3.9M394.6,196.81h3.9M674.8,196.81h-3.9M394.6,194.56h3.9M674.8,194.56h-3.9M394.6,192.53h6.4M674.8,192.53h-6.4M394.6,179.24h3.9M674.8,179.24h-3.9M394.6,171.47h3.9M674.8,171.47h-3.9M394.6,165.95h3.9M674.8,165.95h-3.9M394.6,161.67h3.9M674.8,161.67h-3.9M394.6,158.17h3.9M674.8,158.17h-3.9M394.6,155.22h3.9M674.8,155.22h-3.9M394.6,152.66h3.9M674.8,152.66h-3.9M394.6,150.4h3.9M674.8,150.4h-3.9M394.6,148.38h6.4M674.8,148.38h-6.4M394.6,135.08h3.9M674.8,135.08h-3.9M394.6,127.31h3.9M674.8,127.31h-3.9M394.6,121.79h3.9M674.8,121.79h-3.9M394.6,117.51h3.9M674.8,117.51h-3.9M394.6,114.01h3.9M674.8,114.01h-3.9M394.6,111.06h3.9M674.8,111.06h-3.9M394.6,108.5h3.9M674.8,108.5h-3.9M394.6,106.24h3.9M674.8,106.24h-3.9M394.6,104.22h6.4M674.8,104.22h-6.4M394.6,90.92h3.9M674.8,90.92h-3.9M394.6,83.15h3.9M674.8,83.15h-3.9M394.6,77.63h3.9M674.8,77.63h-3.9M394.6,73.35h3.9M674.8,73.35h-3.9M394.6,69.86h3.9M674.8,69.86h-3.9M394.6,66.9h3.9M674.8,66.9h-3.9M394.6,64.34h3.9M674.8,64.34h-3.9M394.6,62.08h3.9M674.8,62.08h-3.9M394.6,60.06h6.4M674.8,60.06h-6.4M394.6,46.77h3.9M674.8,46.77h-3.9M394.6,38.99h3.9M674.8,38.99h-3.9M394.6,33.47h3.9M674.8,33.47h-3.9M394.6,29.19h3.9M674.8,29.19h-3.9M394.6,25.7h3.9M674.8,25.7h-3.9M394.6,22.74h3.9M674.8,22.74h-3.9M394.6,20.18h3.9M674.8,20.18h-3.9M394.6,17.92h3.9M674.8,17.92h-3.9M394.6,15.9h6.4M674.8,15.9h-6.4" stroke="#222" stroke-width="1" fill="none"/><rect x="394.6" y="15.9" width="280.2" height="207.5" fill="none" stroke="#222" stroke-width="1.1"/><text class="sans" x="386" y="240.3" font-size="12">10<tspan font-size="7.6" dy="-3.9">4</tspan></text><text class="sans" x="456.05" y="240.3" font-size="12">10<tspan font-size="7.6" dy="-3.9">5</tspan></text><text class="sans" x="526.1" y="240.3" font-size="12">10<tspan font-size="7.6" dy="-3.9">6</tspan></text><text class="sans" x="596.15" y="240.3" font-size="12">10<tspan font-size="7.6" dy="-3.9">7</tspan></text><text class="sans" x="666.2" y="240.3" font-size="12">10<tspan font-size="7.6" dy="-3.9">8</tspan></text><text class="sans" x="391" y="197.33" font-size="12" text-anchor="end">10<tspan font-size="7.6" dy="-4.7">−11</tspan></text><text class="sans" x="391" y="153.18" font-size="12" text-anchor="end">10<tspan font-size="7.6" dy="-4.7">−10</tspan></text><text class="sans" x="391" y="109.02" font-size="12" text-anchor="end">10<tspan font-size="7.6" dy="-4.7">−9</tspan></text><text class="sans" x="391" y="64.86" font-size="12" text-anchor="end">10<tspan font-size="7.6" dy="-4.7">−8</tspan></text><text class="sans" x="391" y="20.7" font-size="12" text-anchor="end">10<tspan font-size="7.6" dy="-4.7">−7</tspan></text><text class="serif ttl" x="419.6" y="10.7" font-size="11.8" textLength="229.6" lengthAdjust="spacingAndGlyphs">π-sources, diffuse flux of <tspan font-style="italic">ν</tspan><tspan font-size="7.5" dy="2">e</tspan><tspan dy="-2">+</tspan><tspan font-style="italic">ν</tspan><tspan font-size="7.5" dy="2">e</tspan><tspan dy="-2">, IO, g</tspan><tspan font-size="7.5" dy="2"><tspan font-style="italic">ν</tspan>a</tspan><tspan dy="-2">=1 GeV</tspan><tspan font-size="6.5" dy="-3.6">-1</tspan></text><text class="serif" x="535.3" y="258" font-size="14.1" text-anchor="middle">E [GeV]</text><text class="serif" transform="translate(358.6,115.25) rotate(-90)" font-size="13.5" text-anchor="middle" textLength="132" lengthAdjust="spacingAndGlyphs">E<tspan font-size="9" dy="-5">2</tspan><tspan dy="5"> Φ</tspan><tspan font-size="8.5" dy="2">ν</tspan><tspan dy="-2"> [GeV cm</tspan><tspan font-size="9" dy="-5">-2</tspan><tspan dy="5">s</tspan><tspan font-size="9" dy="-5">-1</tspan><tspan dy="5">sr</tspan><tspan font-size="9" dy="-5">-1</tspan><tspan dy="5">]</tspan></text></g>
<g><clipPath id="c2"><rect x="48.6" y="284.5" width="280.4" height="206.9"/></clipPath><g clip-path="url(#c2)" fill="none" stroke-linejoin="round"><path d="M48.6,323.5L50.06,323.77 51.53,324.04 53,324.32 54.47,324.58 55.94,324.85 57.41,325.12 58.88,325.39 60.35,325.66 61.83,325.93 63.31,326.2 64.78,326.46 66.26,326.73 67.74,327 69.22,327.27 70.7,327.54 72.18,327.81 73.67,328.08 75.15,328.35 76.63,328.62 78.12,328.89 79.6,329.17 81.09,329.44 82.57,329.72 84.06,330 85.55,330.27 87.03,330.55 88.52,330.84 90.01,331.12 91.49,331.41 92.98,331.69 94.47,331.98 95.95,332.27 97.42,332.53 98.89,332.78 100.35,333.04 101.83,333.29 103.3,333.54 104.78,333.79 106.25,334.04 107.73,334.29 109.21,334.54 110.7,334.78 112.18,335.03 113.67,335.28 115.16,335.52 116.64,335.77 118.14,336.02 119.63,336.26 121.12,336.51 122.61,336.76 124.11,337.01 125.6,337.26 127.1,337.51 128.6,337.76 130.09,338.02 131.59,338.27 133.09,338.53 134.59,338.79 136.09,339.05 137.59,339.31 139.09,339.58 140.59,339.85 142.09,340.12 143.59,340.39 145.09,340.67 146.59,340.94 148.08,341.23 149.58,341.51 151.08,341.8 152.58,342.09 154.07,342.39 155.57,342.68 157.07,342.99 158.56,343.29 160.05,343.61 161.54,343.92 163.03,344.24 164.52,344.57 166.01,344.9 167.5,345.23 168.98,345.57 170.47,345.91 171.95,346.26 173.43,346.62 174.91,346.98 176.38,347.35 177.86,347.72 179.33,348.1 180.8,348.48 182.27,348.88 183.73,349.27 185.2,349.68 186.66,350.09 188.11,350.51 189.57,350.93 191.02,351.36 192.47,351.8 193.92,352.25 195.36,352.71 196.8,353.17 198.24,353.64 199.68,354.12 201.11,354.6 202.53,355.1 203.96,355.6 205.38,356.11 206.8,356.63 208.21,357.16 209.62,357.7 211.02,358.25 212.42,358.81 213.82,359.37 215.21,359.95 216.6,360.53 217.99,361.13 219.37,361.73 220.74,362.35 222.12,362.98 223.48,363.61 224.84,364.26 226.2,364.92 227.55,365.59 228.9,366.27 230.24,366.96 231.58,367.66 232.91,368.37 234.24,369.1 235.55,369.83 236.87,370.58 238.17,371.34 239.47,372.12 240.76,372.9 242.04,373.7 243.31,374.51 244.57,375.34 245.83,376.17 247.07,377.02 248.3,377.89 249.53,378.77 250.74,379.66 251.94,380.56 253.12,381.48 254.3,382.42 255.46,383.37 256.61,384.33 257.74,385.31 258.86,386.3 259.97,387.31 261.06,388.33 262.14,389.37 263.2,390.42 264.24,391.49 265.27,392.58 266.28,393.68 267.27,394.8 268.25,395.94 269.2,397.09 270.15,398.26 271.07,399.44 271.98,400.64 272.87,401.85 273.75,403.07 274.61,404.31 275.45,405.56 276.28,406.82 277.1,408.09 277.9,409.38 278.69,410.67 279.47,411.98 280.24,413.29 280.99,414.61 281.73,415.95 282.46,417.29 283.18,418.63 283.88,419.99 284.58,421.35 285.27,422.71 285.94,424.09 286.61,425.46 287.27,426.84 287.92,428.23 288.56,429.62 289.2,431.01 289.82,432.4 290.44,433.8 291.05,435.2 291.65,436.61 292.25,438.01 292.83,439.42 293.41,440.84 293.98,442.25 294.54,443.67 295.09,445.09 295.64,446.51 296.17,447.94 296.7,449.37 297.22,450.8 297.73,452.23 298.24,453.66 298.73,455.1 299.22,456.54 299.7,457.98 300.17,459.42 300.63,460.87 301.09,462.31 301.53,463.76 301.97,465.21 302.4,466.66 302.82,468.12 303.23,469.57 303.64,471.03 304.03,472.48 304.42,473.94 304.8,475.4 305.17,476.86 305.53,478.33 305.89,479.79 306.24,481.26 306.57,482.72 306.9,484.19 307.22,485.65 307.54,487.12 307.84,488.59 308.14,490.06 308.42,491.53 308.7,493" style="stroke:#000;stroke-width:2.3;stroke-dasharray:4.1 2.1"/><path d="M48.6,323.5L50.06,323.77 51.53,324.04 53,324.32 54.47,324.58 55.94,324.85 57.41,325.12 58.88,325.39 60.35,325.66 61.83,325.93 63.31,326.2 64.78,326.46 66.26,326.73 67.74,327 69.22,327.27 70.7,327.54 72.18,327.81 73.67,328.08 75.15,328.35 76.63,328.62 78.12,328.89 79.6,329.17 81.09,329.44 82.57,329.72 84.06,330 85.55,330.27 87.03,330.55 88.52,330.84 90.01,331.12 91.49,331.41 92.98,331.69 94.47,331.98 95.95,332.27 97.44,332.57 98.92,332.86 100.41,333.16 101.89,333.46 103.38,333.77 104.86,334.07 106.35,334.38 107.83,334.69 109.31,335.01 110.79,335.33 112.28,335.65 113.76,335.97 115.23,336.3 116.71,336.63 118.19,336.97 119.67,337.3 121.14,337.65 122.62,337.99 124.09,338.34 125.56,338.7 127.03,339.06 128.5,339.42 129.96,339.79 131.43,340.16 132.89,340.53 134.36,340.91 135.82,341.3 137.28,341.69 138.73,342.09 140.19,342.49 141.64,342.89 143.09,343.3 144.54,343.72 145.99,344.14 147.43,344.57 148.88,345 150.32,345.44 151.75,345.88 153.19,346.33 154.62,346.79 155.89,347.6 157.16,348.42 158.44,349.24 159.72,350.07 161,350.91 162.28,351.75 163.56,352.61 164.83,353.47 166.1,354.34 167.36,355.23 168.62,356.13 169.86,357.04 171.1,357.96 172.32,358.9 173.53,359.85 174.72,360.82 175.9,361.81 177.06,362.82 178.2,363.84 179.32,364.88 180.42,365.95 181.49,367.04 182.54,368.14 183.56,369.27 184.56,370.43 185.52,371.61 186.46,372.82 187.36,374.05 188.23,375.31 189.06,376.59 189.87,377.9 190.64,379.23 191.38,380.58 192.09,381.95 192.77,383.33 193.42,384.74 194.04,386.16 194.63,387.6 195.19,389.04 195.72,390.5 196.22,391.97 196.7,393.45 197.15,394.93 197.57,396.42 197.97,397.91 198.34,399.41 198.68,400.9 199,402.4L199.76,403.27 200.58,404.07 201.44,404.8 202.34,405.46 203.28,406.07 204.26,406.63 205.26,407.14 206.29,407.62 207.34,408.07 208.4,408.49 209.48,408.89 210.56,409.28 211.65,409.67 212.74,410.05 213.82,410.44 214.89,410.85 215.95,411.27 216.98,411.72 218,412.2" style="stroke:#e8e8e8;stroke-width:2"/><path d="M48.6,323.5L50.06,323.77 51.53,324.04 53,324.32 54.47,324.58 55.94,324.85 57.41,325.12 58.88,325.39 60.35,325.66 61.83,325.93 63.31,326.2 64.78,326.46 66.26,326.73 67.74,327 69.22,327.27 70.7,327.54 72.18,327.81 73.67,328.08 75.15,328.35 76.63,328.62 78.12,328.89 79.6,329.17 81.09,329.44 82.57,329.72 84.06,330 85.55,330.27 87.03,330.55 88.52,330.84 90.01,331.12 91.49,331.41 92.98,331.69 94.47,331.98 95.95,332.27 97.44,332.57 98.92,332.86 100.41,333.16 101.89,333.46 103.38,333.77 104.86,334.07 106.35,334.38 107.83,334.69 109.31,335.01 110.79,335.33 112.28,335.65 113.76,335.97 115.23,336.3 116.71,336.63 118.19,336.97 119.67,337.3 121.14,337.65 122.62,337.99 124.09,338.34 125.56,338.7 127.03,339.06 128.5,339.42 129.96,339.79 131.43,340.16 132.89,340.53 134.36,340.91 135.82,341.3 137.28,341.69 138.73,342.09 140.19,342.49 141.64,342.89 143.09,343.3 144.54,343.72 145.99,344.14 147.43,344.57 148.88,345 150.32,345.44 151.75,345.88 153.19,346.33 154.62,346.79 156.05,347.25 157.48,347.72 158.91,348.2 160.27,348.91 161.63,349.64 162.98,350.37 164.34,351.12 165.69,351.87 167.04,352.64 168.38,353.42 169.72,354.2 171.06,355 172.38,355.82 173.7,356.64 175.02,357.48 176.32,358.33 177.62,359.19 178.9,360.07 180.18,360.96 181.44,361.86 182.69,362.78 183.93,363.71 185.16,364.66 186.37,365.63 187.57,366.6 188.75,367.6 189.92,368.61 191.07,369.64 192.2,370.68 193.32,371.74 194.42,372.82 195.5,373.92 196.55,375.03 197.59,376.17 198.62,377.31 199.62,378.48 200.6,379.66 201.56,380.86 202.5,382.07 203.42,383.3 204.33,384.54 205.21,385.8 206.07,387.07 206.91,388.36 207.73,389.67 208.53,390.99 209.31,392.32 210.07,393.66 210.81,395.02 211.52,396.39 212.22,397.78 212.89,399.18 213.54,400.59 214.17,402.01 214.78,403.45 215.37,404.9 215.94,406.36 216.48,407.83 217,409.31 217.5,410.8L227.5,416.6 236.9,420.1" style="stroke:#d6d6d6;stroke-width:2"/><path d="M48.6,323.5L50.06,323.77 51.53,324.04 53,324.32 54.47,324.58 55.94,324.85 57.41,325.12 58.88,325.39 60.35,325.66 61.83,325.93 63.31,326.2 64.78,326.46 66.26,326.73 67.74,327 69.22,327.27 70.7,327.54 72.18,327.81 73.67,328.08 75.15,328.35 76.63,328.62 78.12,328.89 79.6,329.17 81.09,329.44 82.57,329.72 84.06,330 85.55,330.27 87.03,330.55 88.52,330.84 90.01,331.12 91.49,331.41 92.98,331.69 94.47,331.98 95.95,332.27 97.44,332.57 98.92,332.86 100.41,333.16 101.89,333.46 103.38,333.77 104.86,334.07 106.35,334.38 107.83,334.69 109.31,335.01 110.79,335.33 112.28,335.65 113.76,335.97 115.23,336.3 116.71,336.63 118.19,336.97 119.67,337.3 121.14,337.65 122.62,337.99 124.09,338.34 125.56,338.7 127.03,339.06 128.5,339.42 129.96,339.79 131.43,340.16 132.89,340.53 134.36,340.91 135.82,341.3 137.28,341.69 138.73,342.09 140.19,342.49 141.64,342.89 143.09,343.3 144.54,343.72 145.99,344.14 147.43,344.57 148.88,345 150.32,345.44 151.75,345.88 153.19,346.33 154.62,346.79 156.05,347.25 157.48,347.72 158.91,348.2 160.33,348.68 161.75,349.17 163.17,349.66 164.58,350.16 165.99,350.67 167.4,351.19 168.81,351.71 170.21,352.24 171.61,352.78 173,353.32 174.4,353.87 175.78,354.43 177.17,355 178.48,355.75 179.79,356.51 181.09,357.29 182.39,358.08 183.68,358.88 184.97,359.7 186.25,360.53 187.52,361.37 188.79,362.22 190.05,363.09 191.31,363.96 192.55,364.85 193.79,365.76 195.02,366.67 196.25,367.6 197.46,368.54 198.66,369.49 199.86,370.45 201.04,371.43 202.22,372.42 203.39,373.42 204.54,374.43 205.68,375.45 206.82,376.49 207.94,377.54 209.05,378.6 210.14,379.67 211.23,380.76 212.3,381.85 213.36,382.96 214.4,384.08 215.43,385.21 216.45,386.35 217.45,387.51 218.44,388.67 219.42,389.85 220.37,391.04 221.31,392.24 222.24,393.46 223.15,394.68 224.04,395.92 224.92,397.16 225.78,398.42 226.62,399.69 227.44,400.98 228.24,402.27 229.03,403.57 229.8,404.89 230.55,406.22 231.27,407.55 231.98,408.9 232.67,410.26 233.34,411.64 233.99,413.02 234.61,414.41 235.22,415.82 235.8,417.23 236.36,418.66 236.9,420.1L238.18,420.97 239.45,421.85 240.71,422.74 241.96,423.66 243.2,424.58 244.43,425.52 245.64,426.48 246.84,427.45 248.04,428.43 249.22,429.43 250.39,430.44 251.54,431.47 252.69,432.51 253.82,433.56 254.94,434.63 256.05,435.71 257.15,436.8 258.24,437.9 259.31,439.02 260.37,440.14 261.42,441.28 262.46,442.44 263.48,443.6 264.49,444.77 265.49,445.96 266.47,447.16 267.45,448.36 268.41,449.58 269.35,450.81 270.29,452.05 271.21,453.3 272.11,454.55 273.01,455.82 273.89,457.1 274.75,458.39 275.61,459.68 276.45,460.99 277.27,462.3 278.08,463.62 278.88,464.95 279.67,466.29 280.44,467.63 281.19,468.99 281.93,470.35 282.66,471.72 283.37,473.09 284.07,474.48 284.76,475.87 285.42,477.26 286.08,478.66 286.72,480.07 287.34,481.49 287.95,482.91 288.55,484.33 289.13,485.77 289.69,487.2 290.24,488.65 290.78,490.09 291.3,491.54 291.8,493" style="stroke:#aaaaaa;stroke-width:2.2"/><path d="M48.6,323.5L50.06,323.77 51.53,324.04 53,324.32 54.47,324.58 55.94,324.85 57.41,325.12 58.88,325.39 60.35,325.66 61.83,325.93 63.31,326.2 64.78,326.46 66.26,326.73 67.74,327 69.22,327.27 70.7,327.54 72.18,327.81 73.67,328.08 75.15,328.35 76.63,328.62 78.12,328.89 79.6,329.17 81.09,329.44 82.57,329.72 84.06,330 85.55,330.27 87.03,330.55 88.52,330.84 90.01,331.12 91.49,331.41 92.98,331.69 94.47,331.98 95.95,332.27 97.44,332.57 98.92,332.86 100.41,333.16 101.89,333.46 103.38,333.77 104.86,334.07 106.35,334.38 107.83,334.69 109.31,335.01 110.79,335.33 112.28,335.65 113.76,335.97 115.23,336.3 116.71,336.63 118.19,336.97 119.67,337.3 121.14,337.65 122.62,337.99 124.09,338.34 125.56,338.7 127.03,339.06 128.5,339.42 129.96,339.79 131.43,340.16 132.89,340.53 134.36,340.91 135.82,341.3 137.28,341.69 138.73,342.09 140.19,342.49 141.64,342.89 143.09,343.3 144.54,343.72 145.99,344.14 147.43,344.57 148.88,345 150.32,345.44 151.75,345.88 153.19,346.33 154.62,346.79 156.05,347.25 157.48,347.72 158.91,348.2 160.33,348.68 161.75,349.17 163.17,349.66 164.58,350.16 165.99,350.67 167.4,351.19 168.81,351.71 170.21,352.24 171.61,352.78 173,353.32 174.4,353.87 175.78,354.43 177.17,355 178.55,355.57 179.93,356.15 181.31,356.74 182.68,357.34 184.05,357.95 185.41,358.56 186.77,359.18 188.13,359.82 189.48,360.46 190.83,361.1 192.18,361.76 193.52,362.43 194.86,363.1 196.19,363.78 197.52,364.48 198.84,365.18 200.16,365.89 201.48,366.61 202.79,367.34 204.09,368.08 205.39,368.83 206.69,369.59 207.98,370.36 209.27,371.14 210.55,371.93 211.83,372.73 213.1,373.53 214.37,374.35 215.63,375.18 216.89,376.01 218.14,376.86 219.39,377.72 220.63,378.58 221.86,379.45 223.09,380.34 224.31,381.23 225.53,382.13 226.74,383.04 227.94,383.96 229.14,384.89 230.33,385.82 231.52,386.77 232.7,387.72 233.87,388.68 235.03,389.66 236.19,390.63 237.34,391.62 238.49,392.62 239.62,393.62 240.75,394.63 241.87,395.65 242.99,396.68 244.1,397.72 245.2,398.76 246.29,399.82 247.37,400.88 248.45,401.94 249.51,403.02 250.57,404.1 251.63,405.19 252.67,406.29 253.7,407.4 254.73,408.51 255.75,409.63 256.76,410.76 257.76,411.89 258.75,413.03 259.73,414.18 260.7,415.34 261.66,416.5 262.62,417.67 263.56,418.85 264.5,420.03 265.43,421.22 266.34,422.42 267.25,423.62 268.15,424.83 269.03,426.04 269.91,427.27 270.78,428.5 271.63,429.73 272.48,430.97 273.32,432.22 274.14,433.47 274.95,434.73 275.76,436 276.55,437.27 277.33,438.55 278.11,439.83 278.87,441.12 279.61,442.42 280.35,443.72 281.08,445.03 281.79,446.34 282.5,447.66 283.19,448.99 283.87,450.32 284.53,451.66 285.19,453 285.83,454.35 286.47,455.71 287.08,457.07 287.69,458.44 288.29,459.81 288.87,461.19 289.44,462.58 289.99,463.97 290.54,465.36 291.07,466.77 291.59,468.18 292.09,469.59 292.58,471.01 293.06,472.44 293.52,473.87 293.98,475.31 294.41,476.75 294.84,478.2 295.25,479.65 295.64,481.11 296.03,482.58 296.39,484.05 296.75,485.53 297.09,487.01 297.41,488.5 297.72,490 298.02,491.5 298.3,493" style="stroke:#000;stroke-width:2.2"/></g><path d="M48.6,491.4v-6.4M48.6,284.5v6.4M69.7,491.4v-3.9M69.7,284.5v3.9M82.05,491.4v-3.9M82.05,284.5v3.9M90.8,491.4v-3.9M90.8,284.5v3.9M97.6,491.4v-3.9M97.6,284.5v3.9M103.15,491.4v-3.9M103.15,284.5v3.9M107.84,491.4v-3.9M107.84,284.5v3.9M111.91,491.4v-3.9M111.91,284.5v3.9M115.49,491.4v-3.9M115.49,284.5v3.9M118.7,491.4v-6.4M118.7,284.5v6.4M139.8,491.4v-3.9M139.8,284.5v3.9M152.15,491.4v-3.9M152.15,284.5v3.9M160.9,491.4v-3.9M160.9,284.5v3.9M167.7,491.4v-3.9M167.7,284.5v3.9M173.25,491.4v-3.9M173.25,284.5v3.9M177.94,491.4v-3.9M177.94,284.5v3.9M182.01,491.4v-3.9M182.01,284.5v3.9M185.59,491.4v-3.9M185.59,284.5v3.9M188.8,491.4v-6.4M188.8,284.5v6.4M209.9,491.4v-3.9M209.9,284.5v3.9M222.25,491.4v-3.9M222.25,284.5v3.9M231,491.4v-3.9M231,284.5v3.9M237.8,491.4v-3.9M237.8,284.5v3.9M243.35,491.4v-3.9M243.35,284.5v3.9M248.04,491.4v-3.9M248.04,284.5v3.9M252.11,491.4v-3.9M252.11,284.5v3.9M255.69,491.4v-3.9M255.69,284.5v3.9M258.9,491.4v-6.4M258.9,284.5v6.4M280,491.4v-3.9M280,284.5v3.9M292.35,491.4v-3.9M292.35,284.5v3.9M301.1,491.4v-3.9M301.1,284.5v3.9M307.9,491.4v-3.9M307.9,284.5v3.9M313.45,491.4v-3.9M313.45,284.5v3.9M318.14,491.4v-3.9M318.14,284.5v3.9M322.21,491.4v-3.9M322.21,284.5v3.9M325.79,491.4v-3.9M325.79,284.5v3.9M329,491.4v-6.4M329,284.5v6.4M48.6,491.4h3.9M329,491.4h-3.9M48.6,478.15h3.9M329,478.15h-3.9M48.6,470.39h3.9M329,470.39h-3.9M48.6,464.89h3.9M329,464.89h-3.9M48.6,460.62h6.4M329,460.62h-6.4M48.6,447.37h3.9M329,447.37h-3.9M48.6,434.11h3.9M329,434.11h-3.9M48.6,426.36h3.9M329,426.36h-3.9M48.6,420.86h3.9M329,420.86h-3.9M48.6,416.59h6.4M329,416.59h-6.4M48.6,403.34h3.9M329,403.34h-3.9M48.6,390.08h3.9M329,390.08h-3.9M48.6,382.33h3.9M329,382.33h-3.9M48.6,376.83h3.9M329,376.83h-3.9M48.6,372.56h6.4M329,372.56h-6.4M48.6,359.31h3.9M329,359.31h-3.9M48.6,346.05h3.9M329,346.05h-3.9M48.6,338.3h3.9M329,338.3h-3.9M48.6,332.8h3.9M329,332.8h-3.9M48.6,328.53h6.4M329,328.53h-6.4M48.6,315.28h3.9M329,315.28h-3.9M48.6,302.02h3.9M329,302.02h-3.9M48.6,294.27h3.9M329,294.27h-3.9M48.6,288.77h3.9M329,288.77h-3.9M48.6,284.5h6.4M329,284.5h-6.4" stroke="#222" stroke-width="1" fill="none"/><rect x="48.6" y="284.5" width="280.4" height="206.9" fill="none" stroke="#222" stroke-width="1.1"/><text class="sans" x="40" y="508.9" font-size="12">10<tspan font-size="7.6" dy="-3.9">4</tspan></text><text class="sans" x="110.1" y="508.9" font-size="12">10<tspan font-size="7.6" dy="-3.9">5</tspan></text><text class="sans" x="180.2" y="508.9" font-size="12">10<tspan font-size="7.6" dy="-3.9">6</tspan></text><text class="sans" x="250.3" y="508.9" font-size="12">10<tspan font-size="7.6" dy="-3.9">7</tspan></text><text class="sans" x="320.4" y="508.9" font-size="12">10<tspan font-size="7.6" dy="-3.9">8</tspan></text><text class="sans" x="45" y="465.42" font-size="12" text-anchor="end">10<tspan font-size="7.6" dy="-4.7">−11</tspan></text><text class="sans" x="45" y="421.39" font-size="12" text-anchor="end">10<tspan font-size="7.6" dy="-4.7">−10</tspan></text><text class="sans" x="45" y="377.36" font-size="12" text-anchor="end">10<tspan font-size="7.6" dy="-4.7">−9</tspan></text><text class="sans" x="45" y="333.33" font-size="12" text-anchor="end">10<tspan font-size="7.6" dy="-4.7">−8</tspan></text><text class="sans" x="45" y="289.3" font-size="12" text-anchor="end">10<tspan font-size="7.6" dy="-4.7">−7</tspan></text><text class="serif ttl" x="52.9" y="279.8" font-size="11.8" textLength="255" lengthAdjust="spacingAndGlyphs">μ-damped scs., diffuse flux of <tspan font-style="italic">ν</tspan><tspan font-size="7.5" dy="2">e</tspan><tspan dy="-2">+</tspan><tspan font-style="italic">ν</tspan><tspan font-size="7.5" dy="2">e</tspan><tspan dy="-2">, IO, g</tspan><tspan font-size="7.5" dy="2"><tspan font-style="italic">ν</tspan>a</tspan><tspan dy="-2">= 0.5 GeV</tspan><tspan font-size="6.5" dy="-3.6">-1</tspan></text><text class="serif" x="190" y="526.3" font-size="14.1" text-anchor="middle">E[GeV]</text><text class="serif" transform="translate(12.4,383.55) rotate(-90)" font-size="13.5" text-anchor="middle" textLength="132" lengthAdjust="spacingAndGlyphs">E<tspan font-size="9" dy="-5">2</tspan><tspan dy="5"> Φ</tspan><tspan font-size="8.5" dy="2">ν</tspan><tspan dy="-2"> [GeV cm</tspan><tspan font-size="9" dy="-5">-2</tspan><tspan dy="5">s</tspan><tspan font-size="9" dy="-5">-1</tspan><tspan dy="5">sr</tspan><tspan font-size="9" dy="-5">-1</tspan><tspan dy="5">]</tspan></text></g>
<g><clipPath id="c3"><rect x="395.5" y="284.4" width="279.8" height="206.9"/></clipPath><g clip-path="url(#c3)" fill="none" stroke-linejoin="round"><path d="M395.5,323.2L396.97,323.53 398.44,323.85 399.91,324.17 401.38,324.49 402.85,324.8 404.32,325.11 405.79,325.42 407.27,325.72 408.74,326.02 410.22,326.31 411.69,326.61 413.17,326.9 414.65,327.19 416.13,327.47 417.61,327.75 419.09,328.03 420.57,328.31 422.05,328.58 423.53,328.86 425.02,329.13 426.5,329.4 427.98,329.67 429.47,329.93 430.95,330.19 432.44,330.46 433.92,330.72 435.41,330.98 436.9,331.24 438.38,331.49 439.87,331.75 441.36,332 442.85,332.26 444.34,332.51 445.82,332.77 447.31,333.02 448.8,333.27 450.29,333.53 451.78,333.78 453.27,334.03 454.76,334.28 456.25,334.54 457.74,334.79 459.23,335.04 460.72,335.3 462.21,335.55 463.7,335.81 465.18,336.06 466.67,336.32 468.16,336.58 469.65,336.84 471.14,337.1 472.63,337.36 474.12,337.62 475.6,337.89 477.09,338.15 478.58,338.42 480.06,338.69 481.55,338.97 483.04,339.24 484.52,339.52 486.01,339.8 487.49,340.08 488.98,340.36 490.46,340.65 491.94,340.94 493.42,341.23 494.9,341.53 496.39,341.83 497.87,342.13 499.35,342.43 500.82,342.74 502.3,343.05 503.78,343.37 505.26,343.69 506.73,344.01 508.21,344.34 509.68,344.67 511.15,345.01 512.63,345.35 514.1,345.69 515.57,346.04 517.04,346.39 518.5,346.75 519.97,347.11 521.44,347.48 522.9,347.86 524.36,348.23 525.83,348.62 527.29,349.01 528.75,349.4 530.21,349.8 531.66,350.2 533.12,350.62 534.57,351.03 536.03,351.46 537.48,351.88 538.93,352.32 540.38,352.76 541.83,353.21 543.27,353.66 544.72,354.13 546.16,354.59 547.6,355.07 549.04,355.55 550.48,356.04 551.91,356.54 553.34,357.05 554.77,357.56 556.19,358.08 557.61,358.62 559.02,359.16 560.43,359.71 561.84,360.27 563.24,360.84 564.63,361.42 566.02,362.01 567.41,362.61 568.78,363.23 570.15,363.85 571.52,364.49 572.87,365.13 574.22,365.79 575.56,366.46 576.9,367.15 578.22,367.84 579.54,368.55 580.85,369.28 582.15,370.01 583.44,370.76 584.72,371.53 585.99,372.31 587.25,373.1 588.5,373.91 589.73,374.73 590.96,375.57 592.18,376.42 593.38,377.29 594.58,378.18 595.76,379.07 596.93,379.99 598.09,380.92 599.24,381.86 600.38,382.81 601.5,383.78 602.61,384.77 603.72,385.77 604.8,386.78 605.88,387.8 606.95,388.84 608,389.9 609.04,390.96 610.07,392.04 611.08,393.13 612.08,394.24 613.07,395.35 614.05,396.48 615.01,397.62 615.97,398.78 616.9,399.94 617.83,401.12 618.74,402.31 619.64,403.51 620.53,404.72 621.4,405.94 622.26,407.18 623.11,408.43 623.94,409.68 624.76,410.95 625.57,412.22 626.36,413.51 627.14,414.81 627.91,416.11 628.67,417.43 629.42,418.75 630.15,420.08 630.87,421.42 631.58,422.77 632.28,424.12 632.97,425.48 633.65,426.85 634.31,428.23 634.96,429.61 635.61,431 636.24,432.4 636.86,433.8 637.48,435.21 638.08,436.62 638.67,438.04 639.25,439.46 639.82,440.88 640.38,442.31 640.94,443.75 641.48,445.19 642.02,446.63 642.54,448.07 643.06,449.52 643.56,450.97 644.06,452.42 644.55,453.88 645.04,455.33 645.51,456.79 645.98,458.25 646.43,459.71 646.88,461.17 647.33,462.63 647.76,464.09 648.19,465.55 648.61,467.01 649.02,468.47 649.43,469.93 649.83,471.39 650.22,472.85 650.61,474.31 650.99,475.76 651.36,477.21 651.73,478.66 652.09,480.11 652.44,481.56 652.8,483 653.14,484.44 653.48,485.88 653.81,487.31 654.14,488.74 654.47,490.16 654.79,491.58 655.1,493" style="stroke:#000;stroke-width:2.3;stroke-dasharray:4.1 2.1"/><path d="M395.5,325.8L397,326.11 398.5,326.43 399.99,326.76 401.48,327.1 402.96,327.45 404.44,327.81 405.91,328.18 407.38,328.56 408.85,328.95 410.31,329.35 411.77,329.76 413.22,330.18 414.67,330.6 416.12,331.04 417.56,331.48 419,331.93 420.44,332.4 421.87,332.86 423.3,333.34 424.72,333.83 426.14,334.32 427.56,334.82 428.97,335.33 430.38,335.84 431.79,336.37 433.2,336.9 434.6,337.43 436,337.98 437.39,338.53 438.79,339.09 440.18,339.65 441.56,340.22 442.95,340.8 444.33,341.38 445.71,341.97 447.09,342.57 448.46,343.17 449.84,343.77 451.21,344.39 452.58,345 453.94,345.63 455.3,346.25 456.67,346.89 458.03,347.52 459.38,348.17 460.74,348.81 462.09,349.46 463.45,350.12 464.8,350.78 466.15,351.44 467.5,352.11 468.84,352.78 470.19,353.46 471.53,354.14 472.87,354.82 474.21,355.5 475.55,356.19 476.89,356.88 478.23,357.58 479.57,358.28 480.9,358.98 482.24,359.68 483.57,360.38 484.91,361.09 486.24,361.8 487.57,362.51 488.91,363.22 490.24,363.94 491.57,364.65 492.9,365.37 494.23,366.09 495.56,366.81 496.89,367.53 498.22,368.25 499.55,368.97 500.88,369.7 502.21,370.42 503.54,371.15 504.87,371.87 506.2,372.59 507.53,373.32 508.87,374.04 510.2,374.77 511.53,375.49 512.87,376.21 514.2,376.94 515.53,377.66 516.87,378.38 518.21,379.1 519.54,379.82 520.88,380.53 522.22,381.25 523.56,381.96 524.91,382.68 526.25,383.39 527.59,384.1 528.94,384.8 530.28,385.51 531.63,386.22 532.98,386.92 534.32,387.62 535.67,388.33 537.02,389.03 538.37,389.73 539.71,390.44 541.06,391.14 542.4,391.85 543.75,392.56 545.09,393.27 546.43,393.98 547.77,394.69 549.11,395.4 550.45,396.12 551.78,396.84 553.11,397.56 554.44,398.29 555.77,399.02 557.1,399.75 558.42,400.48 559.74,401.22 561.05,401.97 562.36,402.72 563.67,403.47 564.98,404.23 566.28,404.99 567.57,405.76 568.87,406.54 570.15,407.32 571.44,408.11 572.71,408.9 573.99,409.7 575.26,410.51 576.52,411.32 577.77,412.15 579.03,412.98 580.27,413.81 581.51,414.66 582.74,415.51 583.97,416.38 585.19,417.25 586.4,418.13 587.61,419.02 588.81,419.92 590,420.83 591.19,421.75 592.36,422.68 593.53,423.62 594.69,424.57 595.85,425.53 596.99,426.5 598.13,427.49 599.25,428.48 600.37,429.49 601.48,430.51 602.58,431.53 603.67,432.57 604.74,433.62 605.81,434.68 606.87,435.75 607.92,436.83 608.95,437.92 609.98,439.02 610.99,440.13 611.99,441.26 612.98,442.39 613.96,443.53 614.92,444.69 615.87,445.85 616.81,447.03 617.74,448.21 618.65,449.41 619.55,450.62 620.43,451.83 621.3,453.06 622.16,454.3 623,455.55 623.83,456.8 624.64,458.07 625.43,459.35 626.21,460.64 626.98,461.94 627.72,463.24 628.46,464.56 629.17,465.89 629.87,467.23 630.55,468.58 631.22,469.94 631.86,471.3 632.49,472.68 633.1,474.07 633.7,475.47 634.27,476.88 634.83,478.29 635.36,479.72 635.88,481.16 636.38,482.6 636.86,484.06 637.31,485.53 637.75,487 638.17,488.49 638.57,489.98 638.94,491.49 639.3,493" style="stroke:#000;stroke-width:2.2"/><path d="M395.5,325.8L397,326.11 398.5,326.43 399.99,326.76 401.48,327.1 402.96,327.45 404.44,327.81 405.91,328.18 407.38,328.56 408.85,328.95 410.31,329.35 411.77,329.76 413.22,330.18 414.67,330.6 416.12,331.04 417.56,331.48 419,331.93 420.41,332.62 421.8,333.34 423.18,334.07 424.55,334.83 425.91,335.61 427.25,336.41 428.58,337.24 429.9,338.09 431.2,338.95 432.48,339.85 433.75,340.76 435,341.69 436.24,342.65 437.46,343.62 438.65,344.62 439.83,345.64 440.99,346.67 442.13,347.73 443.24,348.81 444.34,349.91 445.41,351.03 446.46,352.17 447.48,353.33 448.48,354.5 449.46,355.7 450.41,356.92 451.33,358.15 452.23,359.41 453.09,360.68 453.93,361.97 454.75,363.28 455.53,364.61 456.28,365.95 457,367.32 457.69,368.7 458.35,370.1 458.98,371.51 459.57,372.95 460.13,374.4 460.65,375.87 461.14,377.35 461.59,378.85 462.01,380.37 462.39,381.9 462.73,383.45 463.03,385.02 463.3,386.6L464.46,387.54 465.67,388.38 466.93,389.1 468.23,389.74 469.56,390.28 470.93,390.75 472.33,391.15 473.75,391.48 475.19,391.77 476.65,392.01 478.12,392.21 479.6,392.39 481.08,392.55 482.56,392.7 484.03,392.85 485.5,393 486.95,393.17 488.39,393.37 489.8,393.6" style="stroke:#e8e8e8;stroke-width:2"/><path d="M395.5,325.8L397,326.11 398.5,326.43 399.99,326.76 401.48,327.1 402.96,327.45 404.44,327.81 405.91,328.18 407.38,328.56 408.85,328.95 410.31,329.35 411.77,329.76 413.22,330.18 414.67,330.6 416.12,331.04 417.56,331.48 419,331.93 420.44,332.4 421.87,332.86 423.3,333.34 424.72,333.83 426.14,334.32 427.56,334.82 428.89,335.6 430.21,336.39 431.54,337.18 432.87,337.97 434.19,338.77 435.52,339.58 436.84,340.39 438.16,341.21 439.48,342.03 440.79,342.86 442.1,343.7 443.4,344.55 444.7,345.41 445.99,346.27 447.27,347.15 448.55,348.03 449.82,348.93 451.08,349.83 452.33,350.75 453.57,351.68 454.79,352.62 456.01,353.57 457.22,354.53 458.41,355.51 459.59,356.5 460.75,357.5 461.91,358.52 463.04,359.55 464.16,360.6 465.27,361.67 466.35,362.75 467.42,363.84 468.48,364.95 469.51,366.08 470.53,367.22 471.53,368.38 472.51,369.56 473.48,370.75 474.42,371.96 475.35,373.18 476.26,374.42 477.15,375.67 478.02,376.94 478.87,378.22 479.7,379.52 480.51,380.84 481.31,382.17 482.08,383.51 482.83,384.87 483.57,386.25 484.28,387.64 484.97,389.04 485.65,390.47 486.3,391.9L487.32,392.5 488.36,393.01 489.43,393.46 490.51,393.84 491.62,394.18 492.74,394.46 493.88,394.7 495.03,394.92 496.18,395.1 497.34,395.28 498.51,395.44 499.67,395.61 500.83,395.78 501.99,395.97 503.14,396.18 504.28,396.42 505.4,396.7 506.51,397.02 507.6,397.4" style="stroke:#d6d6d6;stroke-width:2"/><path d="M395.5,325.8L397,326.11 398.5,326.43 399.99,326.76 401.48,327.1 402.96,327.45 404.44,327.81 405.91,328.18 407.38,328.56 408.85,328.95 410.31,329.35 411.77,329.76 413.22,330.18 414.67,330.6 416.12,331.04 417.56,331.48 419,331.93 420.44,332.4 421.87,332.86 423.3,333.34 424.72,333.83 426.14,334.32 427.56,334.82 428.97,335.33 430.38,335.84 431.79,336.37 433.2,336.9 434.6,337.43 436,337.98 437.39,338.53 438.79,339.09 440.09,339.87 441.39,340.64 442.71,341.41 444.03,342.18 445.35,342.94 446.67,343.7 448,344.46 449.33,345.22 450.66,345.98 451.99,346.74 453.33,347.5 454.66,348.26 455.99,349.02 457.31,349.79 458.64,350.57 459.96,351.34 461.27,352.13 462.58,352.92 463.89,353.72 465.19,354.52 466.48,355.34 467.76,356.17 469.04,357 470.31,357.85 471.56,358.71 472.81,359.58 474.04,360.46 475.26,361.36 476.47,362.28 477.67,363.21 478.85,364.15 480.01,365.11 481.16,366.1 482.3,367.1 483.41,368.12 484.51,369.15 485.6,370.21 486.66,371.29 487.71,372.38 488.75,373.49 489.77,374.62 490.78,375.76 491.78,376.91 492.76,378.07 493.73,379.24 494.7,380.43 495.65,381.62 496.6,382.82 497.54,384.02 498.47,385.23 499.4,386.45 500.32,387.67 501.24,388.89 502.15,390.11 503.06,391.33 503.97,392.55 504.88,393.77 505.78,394.98 506.69,396.2 507.6,397.4L509.1,397.59 510.6,397.79 512.11,398 513.61,398.21 515.11,398.44 516.62,398.67 518.12,398.91 519.63,399.17 521.13,399.43 522.64,399.7 524.14,399.98 525.64,400.27 527.14,400.57 528.64,400.88 530.14,401.19 531.64,401.52 533.13,401.86 534.63,402.21 536.12,402.58 537.61,402.95 539.09,403.33 540.57,403.72 542.05,404.13 543.53,404.54 545,404.97 546.47,405.4 547.93,405.85 549.39,406.31 550.85,406.79 552.3,407.27 553.74,407.77 555.19,408.28 556.62,408.8 558.05,409.33 559.48,409.88 560.9,410.43 562.31,411 563.72,411.59 565.12,412.18 566.51,412.79 567.9,413.42 569.28,414.05 570.65,414.7 572.02,415.36 573.38,416.04 574.73,416.73 576.07,417.44 577.4,418.15 578.73,418.89 580.05,419.63 581.36,420.39 582.65,421.17 583.94,421.96 585.22,422.76 586.49,423.58 587.76,424.42 589.01,425.27 590.25,426.13 591.48,427.01 592.7,427.91 593.9,428.82 595.1,429.75 596.29,430.69 597.46,431.65 598.62,432.62 599.78,433.61 600.92,434.61 602.04,435.63 603.16,436.66 604.26,437.71 605.36,438.77 606.43,439.84 607.5,440.93 608.56,442.03 609.6,443.14 610.63,444.27 611.64,445.41 612.64,446.56 613.63,447.72 614.61,448.9 615.57,450.09 616.52,451.28 617.46,452.49 618.38,453.72 619.29,454.95 620.18,456.19 621.06,457.44 621.93,458.71 622.78,459.98 623.62,461.27 624.44,462.56 625.25,463.86 626.04,465.17 626.82,466.49 627.58,467.82 628.33,469.16 629.06,470.51 629.78,471.86 630.48,473.22 631.17,474.59 631.84,475.97 632.49,477.36 633.13,478.75 633.75,480.15 634.35,481.55 634.94,482.96 635.52,484.38 636.07,485.8 636.61,487.23 637.13,488.67 637.64,490.11 638.13,491.55 638.6,493" style="stroke:#aaaaaa;stroke-width:2.2"/></g><path d="M395.5,491.3v-6.4M395.5,284.4v6.4M416.56,491.3v-3.9M416.56,284.4v3.9M428.87,491.3v-3.9M428.87,284.4v3.9M437.61,491.3v-3.9M437.61,284.4v3.9M444.39,491.3v-3.9M444.39,284.4v3.9M449.93,491.3v-3.9M449.93,284.4v3.9M454.61,491.3v-3.9M454.61,284.4v3.9M458.67,491.3v-3.9M458.67,284.4v3.9M462.25,491.3v-3.9M462.25,284.4v3.9M465.45,491.3v-6.4M465.45,284.4v6.4M486.51,491.3v-3.9M486.51,284.4v3.9M498.82,491.3v-3.9M498.82,284.4v3.9M507.56,491.3v-3.9M507.56,284.4v3.9M514.34,491.3v-3.9M514.34,284.4v3.9M519.88,491.3v-3.9M519.88,284.4v3.9M524.56,491.3v-3.9M524.56,284.4v3.9M528.62,491.3v-3.9M528.62,284.4v3.9M532.2,491.3v-3.9M532.2,284.4v3.9M535.4,491.3v-6.4M535.4,284.4v6.4M556.46,491.3v-3.9M556.46,284.4v3.9M568.77,491.3v-3.9M568.77,284.4v3.9M577.51,491.3v-3.9M577.51,284.4v3.9M584.29,491.3v-3.9M584.29,284.4v3.9M589.83,491.3v-3.9M589.83,284.4v3.9M594.51,491.3v-3.9M594.51,284.4v3.9M598.57,491.3v-3.9M598.57,284.4v3.9M602.15,491.3v-3.9M602.15,284.4v3.9M605.35,491.3v-6.4M605.35,284.4v6.4M626.41,491.3v-3.9M626.41,284.4v3.9M638.72,491.3v-3.9M638.72,284.4v3.9M647.46,491.3v-3.9M647.46,284.4v3.9M654.24,491.3v-3.9M654.24,284.4v3.9M659.78,491.3v-3.9M659.78,284.4v3.9M664.46,491.3v-3.9M664.46,284.4v3.9M668.52,491.3v-3.9M668.52,284.4v3.9M672.1,491.3v-3.9M672.1,284.4v3.9M675.3,491.3v-6.4M675.3,284.4v6.4M395.5,491.3h3.9M675.3,491.3h-3.9M395.5,478.05h3.9M675.3,478.05h-3.9M395.5,470.29h3.9M675.3,470.29h-3.9M395.5,464.79h3.9M675.3,464.79h-3.9M395.5,460.52h6.4M675.3,460.52h-6.4M395.5,447.27h3.9M675.3,447.27h-3.9M395.5,434.01h3.9M675.3,434.01h-3.9M395.5,426.26h3.9M675.3,426.26h-3.9M395.5,420.76h3.9M675.3,420.76h-3.9M395.5,416.49h6.4M675.3,416.49h-6.4M395.5,403.24h3.9M675.3,403.24h-3.9M395.5,389.98h3.9M675.3,389.98h-3.9M395.5,382.23h3.9M675.3,382.23h-3.9M395.5,376.73h3.9M675.3,376.73h-3.9M395.5,372.46h6.4M675.3,372.46h-6.4M395.5,359.21h3.9M675.3,359.21h-3.9M395.5,345.95h3.9M675.3,345.95h-3.9M395.5,338.2h3.9M675.3,338.2h-3.9M395.5,332.7h3.9M675.3,332.7h-3.9M395.5,328.43h6.4M675.3,328.43h-6.4M395.5,315.18h3.9M675.3,315.18h-3.9M395.5,301.92h3.9M675.3,301.92h-3.9M395.5,294.17h3.9M675.3,294.17h-3.9M395.5,288.67h3.9M675.3,288.67h-3.9M395.5,284.4h6.4M675.3,284.4h-6.4" stroke="#222" stroke-width="1" fill="none"/><rect x="395.5" y="284.4" width="279.8" height="206.9" fill="none" stroke="#222" stroke-width="1.1"/><text class="sans" x="386.9" y="509.1" font-size="12">10<tspan font-size="7.6" dy="-3.9">4</tspan></text><text class="sans" x="456.85" y="509.1" font-size="12">10<tspan font-size="7.6" dy="-3.9">5</tspan></text><text class="sans" x="526.8" y="509.1" font-size="12">10<tspan font-size="7.6" dy="-3.9">6</tspan></text><text class="sans" x="596.75" y="509.1" font-size="12">10<tspan font-size="7.6" dy="-3.9">7</tspan></text><text class="sans" x="666.7" y="509.1" font-size="12">10<tspan font-size="7.6" dy="-3.9">8</tspan></text><text class="sans" x="391.9" y="465.32" font-size="12" text-anchor="end">10<tspan font-size="7.6" dy="-4.7">−11</tspan></text><text class="sans" x="391.9" y="421.29" font-size="12" text-anchor="end">10<tspan font-size="7.6" dy="-4.7">−10</tspan></text><text class="sans" x="391.9" y="377.26" font-size="12" text-anchor="end">10<tspan font-size="7.6" dy="-4.7">−9</tspan></text><text class="sans" x="391.9" y="333.23" font-size="12" text-anchor="end">10<tspan font-size="7.6" dy="-4.7">−8</tspan></text><text class="sans" x="391.9" y="289.2" font-size="12" text-anchor="end">10<tspan font-size="7.6" dy="-4.7">−7</tspan></text><text class="serif ttl" x="402.6" y="279.8" font-size="11.8" textLength="240.6" lengthAdjust="spacingAndGlyphs">μ-damped scs., diffuse flux of <tspan font-style="italic">ν</tspan><tspan font-size="7.5" dy="2">e</tspan><tspan dy="-2">+</tspan><tspan font-style="italic">ν</tspan><tspan font-size="7.5" dy="2">e</tspan><tspan dy="-2">, IO, g</tspan><tspan font-size="7.5" dy="2"><tspan font-style="italic">ν</tspan>a</tspan><tspan dy="-2">=1 GeV</tspan><tspan font-size="6.5" dy="-3.6">-1</tspan></text><text class="serif" x="536" y="526.6" font-size="14.1" text-anchor="middle">E[GeV]</text><text class="serif" transform="translate(358.6,383.55) rotate(-90)" font-size="13.5" text-anchor="middle" textLength="132" lengthAdjust="spacingAndGlyphs">E<tspan font-size="9" dy="-5">2</tspan><tspan dy="5"> Φ</tspan><tspan font-size="8.5" dy="2">ν</tspan><tspan dy="-2"> [GeV cm</tspan><tspan font-size="9" dy="-5">-2</tspan><tspan dy="5">s</tspan><tspan font-size="9" dy="-5">-1</tspan><tspan dy="5">sr</tspan><tspan font-size="9" dy="-5">-1</tspan><tspan dy="5">]</tspan></text></g>
<g><clipPath id="c4"><rect x="48.8" y="549.4" width="280.2" height="207"/></clipPath><g clip-path="url(#c4)" fill="none" stroke-linejoin="round"><path d="M48.8,554.6L50.24,554.89 51.68,555.18 53.13,555.46 54.58,555.75 56.03,556.03 57.48,556.32 58.94,556.6 60.4,556.89 61.86,557.17 63.32,557.45 64.78,557.74 66.25,558.02 67.72,558.3 69.19,558.59 70.66,558.87 72.14,559.15 73.61,559.44 75.09,559.72 76.57,560.01 78.05,560.29 79.53,560.58 81.01,560.87 82.5,561.16 83.98,561.45 85.47,561.74 86.95,562.03 88.44,562.33 89.93,562.62 91.42,562.92 92.92,563.15 94.42,563.38 95.92,563.62 97.42,563.86 98.91,564.1 100.4,564.34 101.89,564.58 103.38,564.83 104.87,565.08 106.35,565.33 107.83,565.58 109.31,565.83 110.79,566.09 112.27,566.35 113.75,566.61 115.22,566.87 116.7,567.13 118.17,567.4 119.64,567.66 121.11,567.93 122.58,568.2 124.05,568.48 125.52,568.75 126.99,569.03 128.46,569.31 129.93,569.59 131.39,569.87 132.86,570.15 134.33,570.44 135.79,570.72 137.26,571.01 138.73,571.3 140.19,571.59 141.66,571.89 143.13,572.18 144.6,572.48 146.07,572.78 147.53,573.08 149,573.38 150.48,573.68 151.95,573.99 153.42,574.3 154.89,574.6 156.37,574.91 157.84,575.22 159.32,575.54 160.8,575.85 162.28,576.17 163.76,576.48 165.24,576.8 166.73,577.12 168.22,577.44 169.7,577.77 171.19,578.09 172.68,578.42 174.17,578.75 175.66,579.09 177.15,579.43 178.64,579.77 180.13,580.12 181.62,580.47 183.1,580.82 184.59,581.18 186.08,581.55 187.56,581.92 189.04,582.3 190.52,582.68 192,583.07 193.48,583.47 194.95,583.87 196.42,584.28 197.89,584.69 199.35,585.12 200.81,585.55 202.27,585.99 203.72,586.44 205.17,586.9 206.61,587.37 208.05,587.85 209.48,588.33 210.91,588.83 212.33,589.34 213.75,589.86 215.16,590.38 216.57,590.92 217.97,591.47 219.36,592.04 220.75,592.61 222.13,593.2 223.5,593.8 224.86,594.41 226.22,595.04 227.57,595.67 228.91,596.33 230.24,596.99 231.57,597.67 232.88,598.37 234.19,599.08 235.49,599.8 236.78,600.54 238.05,601.3 239.32,602.07 240.58,602.86 241.83,603.66 243.07,604.48 244.29,605.32 245.51,606.17 246.71,607.04 247.91,607.92 249.09,608.82 250.26,609.73 251.42,610.66 252.56,611.61 253.7,612.57 254.82,613.54 255.93,614.53 257.03,615.53 258.11,616.55 259.18,617.59 260.24,618.63 261.29,619.7 262.32,620.77 263.33,621.86 264.34,622.97 265.33,624.08 266.3,625.21 267.26,626.36 268.21,627.51 269.14,628.68 270.05,629.87 270.95,631.06 271.84,632.27 272.71,633.49 273.57,634.72 274.42,635.97 275.25,637.22 276.07,638.48 276.88,639.75 277.68,641.04 278.46,642.33 279.23,643.63 279.99,644.94 280.74,646.25 281.48,647.58 282.2,648.91 282.92,650.25 283.62,651.6 284.32,652.95 285,654.31 285.68,655.67 286.35,657.04 287,658.41 287.65,659.79 288.29,661.17 288.92,662.56 289.55,663.95 290.16,665.34 290.77,666.73 291.37,668.13 291.96,669.53 292.55,670.93 293.13,672.33 293.7,673.74 294.26,675.15 294.82,676.56 295.37,677.97 295.91,679.39 296.45,680.8 296.98,682.22 297.5,683.65 298.01,685.07 298.52,686.5 299.02,687.92 299.52,689.35 300.01,690.78 300.49,692.22 300.96,693.65 301.43,695.09 301.89,696.53 302.35,697.97 302.8,699.41 303.24,700.85 303.68,702.3 304.11,703.74 304.54,705.19 304.95,706.64 305.37,708.09 305.77,709.54 306.18,711 306.57,712.45 306.96,713.91 307.34,715.36 307.72,716.82 308.09,718.28 308.46,719.74 308.82,721.21 309.18,722.67 309.53,724.13 309.87,725.6 310.21,727.06 310.54,728.53 310.87,730 311.2,731.47 311.52,732.94 311.83,734.41 312.14,735.88 312.44,737.35 312.74,738.82 313.03,740.29 313.32,741.77 313.61,743.24 313.89,744.71 314.16,746.19 314.43,747.66 314.7,749.14 314.96,750.62 315.22,752.09 315.47,753.57 315.72,755.05 315.96,756.52 316.2,758" style="stroke:#000;stroke-width:2.3;stroke-dasharray:4.1 2.1"/><path d="M48.8,554.6L50.24,554.89 51.68,555.18 53.13,555.46 54.58,555.75 56.03,556.03 57.48,556.32 58.94,556.6 60.4,556.89 61.86,557.17 63.32,557.45 64.78,557.74 66.25,558.02 67.72,558.3 69.19,558.59 70.66,558.87 72.14,559.15 73.61,559.44 75.09,559.72 76.57,560.01 78.05,560.29 79.53,560.58 81.01,560.87 82.5,561.16 83.98,561.45 85.47,561.74 86.95,562.03 88.44,562.33 89.93,562.62 91.42,562.92 92.91,563.22 94.4,563.52 95.89,563.82 97.38,564.13 98.88,564.44 100.37,564.75 101.86,565.06 103.35,565.37 104.84,565.69 106.34,566.01 107.83,566.33 109.32,566.66 110.81,566.99 112.3,567.32 113.79,567.65 115.28,567.99 116.77,568.33 118.26,568.68 119.75,569.03 121.23,569.38 122.72,569.74 124.21,570.1 125.69,570.46 127.17,570.83 128.65,571.2 130.13,571.58 131.61,571.96 133.09,572.34 134.56,572.73 136.04,573.13 137.51,573.53 138.98,573.93 140.45,574.34 141.91,574.76 143.38,575.18 144.84,575.6 146.3,576.03 147.76,576.47 149.21,576.91 150.67,577.36 152.12,577.81 153.56,578.27 155.01,578.73 156.45,579.21 157.89,579.68 159.24,580.45 160.58,581.23 161.92,582.03 163.25,582.86 164.57,583.7 165.89,584.57 167.19,585.45 168.48,586.36 169.76,587.29 171.02,588.24 172.27,589.21 173.5,590.2 174.7,591.22 175.89,592.25 177.05,593.31 178.19,594.4 179.3,595.5 180.39,596.63 181.45,597.78 182.47,598.96 183.47,600.15 184.43,601.38 185.35,602.62 186.24,603.89 187.09,605.19 187.9,606.51 188.68,607.85 189.4,609.22 190.09,610.62 190.73,612.04 191.32,613.48 191.86,614.95 192.36,616.45 192.8,617.97 193.19,619.52 193.52,621.1 193.8,622.7L205.4,720.9L215.2,724.8 224.4,728.8" style="stroke:#e8e8e8;stroke-width:2"/><path d="M48.8,554.6L50.24,554.89 51.68,555.18 53.13,555.46 54.58,555.75 56.03,556.03 57.48,556.32 58.94,556.6 60.4,556.89 61.86,557.17 63.32,557.45 64.78,557.74 66.25,558.02 67.72,558.3 69.19,558.59 70.66,558.87 72.14,559.15 73.61,559.44 75.09,559.72 76.57,560.01 78.05,560.29 79.53,560.58 81.01,560.87 82.5,561.16 83.98,561.45 85.47,561.74 86.95,562.03 88.44,562.33 89.93,562.62 91.42,562.92 92.91,563.22 94.4,563.52 95.89,563.82 97.38,564.13 98.88,564.44 100.37,564.75 101.86,565.06 103.35,565.37 104.84,565.69 106.34,566.01 107.83,566.33 109.32,566.66 110.81,566.99 112.3,567.32 113.79,567.65 115.28,567.99 116.77,568.33 118.26,568.68 119.75,569.03 121.23,569.38 122.72,569.74 124.21,570.1 125.69,570.46 127.17,570.83 128.65,571.2 130.13,571.58 131.61,571.96 133.09,572.34 134.56,572.73 136.04,573.13 137.51,573.53 138.98,573.93 140.45,574.34 141.91,574.76 143.38,575.18 144.84,575.6 146.3,576.03 147.76,576.47 149.21,576.91 150.67,577.36 152.12,577.81 153.56,578.27 155.01,578.73 156.45,579.21 157.89,579.68 159.33,580.17 160.76,580.66 162.19,581.15 163.62,581.66 164.86,582.56 166.12,583.43 167.41,584.29 168.71,585.12 170.02,585.94 171.35,586.75 172.69,587.54 174.03,588.33 175.39,589.11 176.75,589.88 178.11,590.65 179.47,591.42 180.82,592.2 182.18,592.98 183.53,593.77 184.86,594.56 186.19,595.38 187.51,596.2 188.8,597.05 190.08,597.92 191.34,598.81 192.57,599.73 193.77,600.67 194.95,601.66 196.08,602.68 197.19,603.73 198.25,604.83 199.28,605.96 200.27,607.12 201.22,608.32 202.14,609.55 203.02,610.8 203.86,612.09 204.66,613.4 205.43,614.74 206.16,616.11 206.84,617.5 207.49,618.91 208.1,620.33 208.68,621.78 209.21,623.25 209.7,624.73 210.15,626.23 210.57,627.74 210.94,629.26 211.27,630.79 211.57,632.33 211.82,633.88 212.03,635.44 212.2,637L224.4,728.8L234.9,733.4 242.8,738.9" style="stroke:#d6d6d6;stroke-width:2"/><path d="M48.8,554.6L50.24,554.89 51.68,555.18 53.13,555.46 54.58,555.75 56.03,556.03 57.48,556.32 58.94,556.6 60.4,556.89 61.86,557.17 63.32,557.45 64.78,557.74 66.25,558.02 67.72,558.3 69.19,558.59 70.66,558.87 72.14,559.15 73.61,559.44 75.09,559.72 76.57,560.01 78.05,560.29 79.53,560.58 81.01,560.87 82.5,561.16 83.98,561.45 85.47,561.74 86.95,562.03 88.44,562.33 89.93,562.62 91.42,562.92 92.91,563.22 94.4,563.52 95.89,563.82 97.38,564.13 98.88,564.44 100.37,564.75 101.86,565.06 103.35,565.37 104.84,565.69 106.34,566.01 107.83,566.33 109.32,566.66 110.81,566.99 112.3,567.32 113.79,567.65 115.28,567.99 116.77,568.33 118.26,568.68 119.75,569.03 121.23,569.38 122.72,569.74 124.21,570.1 125.69,570.46 127.17,570.83 128.65,571.2 130.13,571.58 131.61,571.96 133.09,572.34 134.56,572.73 136.04,573.13 137.51,573.53 138.98,573.93 140.45,574.34 141.91,574.76 143.38,575.18 144.84,575.6 146.3,576.03 147.76,576.47 149.21,576.91 150.67,577.36 152.12,577.81 153.56,578.27 155.01,578.73 156.45,579.21 157.89,579.68 159.33,580.17 160.76,580.66 162.19,581.15 163.62,581.66 165.04,582.17 166.46,582.68 167.88,583.21 169.29,583.74 170.7,584.28 172.11,584.82 173.51,585.37 174.91,585.93 176.31,586.5 177.7,587.08 179.09,587.66 180.42,588.42 181.76,589.19 183.1,589.96 184.44,590.73 185.78,591.51 187.11,592.3 188.44,593.09 189.76,593.89 191.08,594.7 192.39,595.53 193.68,596.36 194.97,597.21 196.25,598.07 197.51,598.94 198.76,599.83 199.99,600.74 201.21,601.66 202.4,602.6 203.58,603.56 204.74,604.55 205.88,605.55 206.99,606.57 208.08,607.62 209.14,608.69 210.17,609.79 211.18,610.91 212.16,612.06 213.11,613.24 214.03,614.44 214.93,615.66 215.8,616.91 216.64,618.18 217.46,619.47 218.26,620.77 219.03,622.1 219.78,623.44 220.51,624.8 221.22,626.17 221.92,627.55 222.59,628.95 223.25,630.36 223.89,631.77 224.51,633.2 225.12,634.63 225.72,636.06 226.3,637.51 226.87,638.95 227.43,640.4 227.98,641.85 228.52,643.3 229.05,644.74 229.57,646.19 230.09,647.63 230.6,649.07 231.1,650.5L242.8,738.9L244.01,739.89 245.23,740.86 246.45,741.83 247.68,742.8 248.91,743.77 250.14,744.73 251.37,745.69 252.6,746.66 253.82,747.63 255.04,748.61 256.25,749.6 257.45,750.59 258.65,751.6 259.83,752.62 260.99,753.66 262.15,754.72 263.28,755.79 264.4,756.88 265.5,758" style="stroke:#aaaaaa;stroke-width:2.2"/><path d="M48.8,554.6L50.24,554.89 51.68,555.18 53.13,555.46 54.58,555.75 56.03,556.03 57.48,556.32 58.94,556.6 60.4,556.89 61.86,557.17 63.32,557.45 64.78,557.74 66.25,558.02 67.72,558.3 69.19,558.59 70.66,558.87 72.14,559.15 73.61,559.44 75.09,559.72 76.57,560.01 78.05,560.29 79.53,560.58 81.01,560.87 82.5,561.16 83.98,561.45 85.47,561.74 86.95,562.03 88.44,562.33 89.93,562.62 91.42,562.92 92.91,563.22 94.4,563.52 95.89,563.82 97.38,564.13 98.88,564.44 100.37,564.75 101.86,565.06 103.35,565.37 104.84,565.69 106.34,566.01 107.83,566.33 109.32,566.66 110.81,566.99 112.3,567.32 113.79,567.65 115.28,567.99 116.77,568.33 118.26,568.68 119.75,569.03 121.23,569.38 122.72,569.74 124.21,570.1 125.69,570.46 127.17,570.83 128.65,571.2 130.13,571.58 131.61,571.96 133.09,572.34 134.56,572.73 136.04,573.13 137.51,573.53 138.98,573.93 140.45,574.34 141.91,574.76 143.38,575.18 144.84,575.6 146.3,576.03 147.76,576.47 149.21,576.91 150.67,577.36 152.12,577.81 153.56,578.27 155.01,578.73 156.45,579.21 157.89,579.68 159.33,580.17 160.76,580.66 162.19,581.15 163.62,581.66 165.04,582.17 166.46,582.68 167.88,583.21 169.29,583.74 170.7,584.28 172.11,584.82 173.51,585.37 174.91,585.93 176.31,586.5 177.7,587.08 179.09,587.66 180.47,588.25 181.85,588.85 183.22,589.46 184.59,590.07 185.96,590.69 187.32,591.33 188.68,591.97 190.03,592.61 191.38,593.27 192.72,593.94 194.06,594.61 195.39,595.29 196.72,595.99 198.04,596.69 199.36,597.4 200.67,598.12 201.97,598.85 203.27,599.59 204.57,600.34 205.86,601.1 207.14,601.86 208.42,602.64 209.7,603.43 210.96,604.23 212.22,605.04 213.48,605.86 214.73,606.69 215.97,607.53 217.2,608.38 218.43,609.24 219.66,610.11 220.87,610.99 222.08,611.88 223.28,612.78 224.48,613.69 225.67,614.6 226.85,615.53 228.03,616.47 229.2,617.42 230.36,618.37 231.51,619.34 232.65,620.32 233.79,621.3 234.92,622.29 236.05,623.3 237.16,624.31 238.27,625.33 239.37,626.36 240.46,627.4 241.55,628.44 242.62,629.5 243.69,630.56 244.75,631.64 245.8,632.72 246.84,633.81 247.87,634.9 248.9,636.01 249.91,637.13 250.92,638.25 251.92,639.38 252.91,640.52 253.89,641.66 254.86,642.82 255.82,643.98 256.77,645.15 257.72,646.33 258.65,647.52 259.57,648.71 260.49,649.91 261.39,651.12 262.29,652.33 263.17,653.55 264.05,654.78 264.91,656.02 265.76,657.27 266.61,658.52 267.44,659.78 268.27,661.04 269.08,662.31 269.89,663.59 270.68,664.87 271.46,666.17 272.24,667.46 273,668.77 273.76,670.08 274.51,671.39 275.24,672.71 275.97,674.04 276.69,675.37 277.4,676.71 278.1,678.05 278.79,679.4 279.47,680.75 280.14,682.11 280.81,683.47 281.47,684.84 282.11,686.21 282.75,687.59 283.38,688.97 284,690.35 284.62,691.74 285.22,693.13 285.82,694.53 286.41,695.93 286.99,697.33 287.57,698.74 288.13,700.15 288.69,701.57 289.24,702.98 289.78,704.4 290.32,705.83 290.85,707.25 291.37,708.68 291.88,710.11 292.39,711.55 292.89,712.98 293.38,714.42 293.87,715.86 294.35,717.3 294.82,718.75 295.28,720.19 295.74,721.64 296.19,723.09 296.64,724.54 297.08,725.99 297.51,727.44 297.94,728.9 298.36,730.35 298.77,731.81 299.18,733.26 299.59,734.72 299.98,736.18 300.38,737.63 300.76,739.09 301.14,740.55 301.52,742 301.89,743.46 302.25,744.92 302.61,746.38 302.96,747.83 303.31,749.29 303.65,750.74 303.99,752.2 304.33,753.65 304.66,755.1 304.98,756.55 305.3,758" style="stroke:#000;stroke-width:2.2"/></g><path d="M48.8,756.4v-6.4M48.8,549.4v6.4M69.89,756.4v-3.9M69.89,549.4v3.9M82.22,756.4v-3.9M82.22,549.4v3.9M90.97,756.4v-3.9M90.97,549.4v3.9M97.76,756.4v-3.9M97.76,549.4v3.9M103.31,756.4v-3.9M103.31,549.4v3.9M108,756.4v-3.9M108,549.4v3.9M112.06,756.4v-3.9M112.06,549.4v3.9M115.64,756.4v-3.9M115.64,549.4v3.9M118.85,756.4v-6.4M118.85,549.4v6.4M139.94,756.4v-3.9M139.94,549.4v3.9M152.27,756.4v-3.9M152.27,549.4v3.9M161.02,756.4v-3.9M161.02,549.4v3.9M167.81,756.4v-3.9M167.81,549.4v3.9M173.36,756.4v-3.9M173.36,549.4v3.9M178.05,756.4v-3.9M178.05,549.4v3.9M182.11,756.4v-3.9M182.11,549.4v3.9M185.69,756.4v-3.9M185.69,549.4v3.9M188.9,756.4v-6.4M188.9,549.4v6.4M209.99,756.4v-3.9M209.99,549.4v3.9M222.32,756.4v-3.9M222.32,549.4v3.9M231.07,756.4v-3.9M231.07,549.4v3.9M237.86,756.4v-3.9M237.86,549.4v3.9M243.41,756.4v-3.9M243.41,549.4v3.9M248.1,756.4v-3.9M248.1,549.4v3.9M252.16,756.4v-3.9M252.16,549.4v3.9M255.74,756.4v-3.9M255.74,549.4v3.9M258.95,756.4v-6.4M258.95,549.4v6.4M280.04,756.4v-3.9M280.04,549.4v3.9M292.37,756.4v-3.9M292.37,549.4v3.9M301.12,756.4v-3.9M301.12,549.4v3.9M307.91,756.4v-3.9M307.91,549.4v3.9M313.46,756.4v-3.9M313.46,549.4v3.9M318.15,756.4v-3.9M318.15,549.4v3.9M322.21,756.4v-3.9M322.21,549.4v3.9M325.79,756.4v-3.9M325.79,549.4v3.9M329,756.4v-6.4M329,549.4v6.4M48.8,756.4h3.9M329,756.4h-3.9M48.8,743.14h3.9M329,743.14h-3.9M48.8,735.38h3.9M329,735.38h-3.9M48.8,729.88h3.9M329,729.88h-3.9M48.8,725.61h6.4M329,725.61h-6.4M48.8,712.35h3.9M329,712.35h-3.9M48.8,699.09h3.9M329,699.09h-3.9M48.8,691.33h3.9M329,691.33h-3.9M48.8,685.83h3.9M329,685.83h-3.9M48.8,681.56h6.4M329,681.56h-6.4M48.8,668.3h3.9M329,668.3h-3.9M48.8,655.03h3.9M329,655.03h-3.9M48.8,647.28h3.9M329,647.28h-3.9M48.8,641.77h3.9M329,641.77h-3.9M48.8,637.5h6.4M329,637.5h-6.4M48.8,624.24h3.9M329,624.24h-3.9M48.8,610.98h3.9M329,610.98h-3.9M48.8,603.23h3.9M329,603.23h-3.9M48.8,597.72h3.9M329,597.72h-3.9M48.8,593.45h6.4M329,593.45h-6.4M48.8,580.19h3.9M329,580.19h-3.9M48.8,566.93h3.9M329,566.93h-3.9M48.8,559.17h3.9M329,559.17h-3.9M48.8,553.67h3.9M329,553.67h-3.9M48.8,549.4h6.4M329,549.4h-6.4" stroke="#222" stroke-width="1" fill="none"/><rect x="48.8" y="549.4" width="280.2" height="207" fill="none" stroke="#222" stroke-width="1.1"/><text class="sans" x="40.2" y="774.1" font-size="12">10<tspan font-size="7.6" dy="-3.9">4</tspan></text><text class="sans" x="110.25" y="774.1" font-size="12">10<tspan font-size="7.6" dy="-3.9">5</tspan></text><text class="sans" x="180.3" y="774.1" font-size="12">10<tspan font-size="7.6" dy="-3.9">6</tspan></text><text class="sans" x="250.35" y="774.1" font-size="12">10<tspan font-size="7.6" dy="-3.9">7</tspan></text><text class="sans" x="320.4" y="774.1" font-size="12">10<tspan font-size="7.6" dy="-3.9">8</tspan></text><text class="sans" x="45.2" y="730.41" font-size="12" text-anchor="end">10<tspan font-size="7.6" dy="-4.7">−11</tspan></text><text class="sans" x="45.2" y="686.36" font-size="12" text-anchor="end">10<tspan font-size="7.6" dy="-4.7">−10</tspan></text><text class="sans" x="45.2" y="642.3" font-size="12" text-anchor="end">10<tspan font-size="7.6" dy="-4.7">−9</tspan></text><text class="sans" x="45.2" y="598.25" font-size="12" text-anchor="end">10<tspan font-size="7.6" dy="-4.7">−8</tspan></text><text class="sans" x="45.2" y="554.2" font-size="12" text-anchor="end">10<tspan font-size="7.6" dy="-4.7">−7</tspan></text><text class="serif ttl" x="53" y="544.9" font-size="11.8" textLength="243.4" lengthAdjust="spacingAndGlyphs">n-sources, diffuse flux of <tspan font-style="italic">ν</tspan><tspan font-size="7.5" dy="2">e</tspan><tspan dy="-2">+</tspan><tspan font-style="italic">ν</tspan><tspan font-size="7.5" dy="2">e</tspan><tspan dy="-2">, IO, g</tspan><tspan font-size="7.5" dy="2"><tspan font-style="italic">ν</tspan>a</tspan><tspan dy="-2">= 0.5 GeV</tspan><tspan font-size="6.5" dy="-3.6">-1</tspan></text><text class="serif" x="190" y="791.6" font-size="14.1" text-anchor="middle">E[GeV]</text><text class="serif" transform="translate(12.4,647.85) rotate(-90)" font-size="13.5" text-anchor="middle" textLength="132" lengthAdjust="spacingAndGlyphs">E<tspan font-size="9" dy="-5">2</tspan><tspan dy="5"> Φ</tspan><tspan font-size="8.5" dy="2">ν</tspan><tspan dy="-2"> [GeV cm</tspan><tspan font-size="9" dy="-5">-2</tspan><tspan dy="5">s</tspan><tspan font-size="9" dy="-5">-1</tspan><tspan dy="5">sr</tspan><tspan font-size="9" dy="-5">-1</tspan><tspan dy="5">]</tspan></text></g>
<g><clipPath id="c5"><rect x="395.5" y="549.4" width="279.9" height="207"/></clipPath><g clip-path="url(#c5)" fill="none" stroke-linejoin="round"><path d="M395.5,554.8L396.98,555.1 398.47,555.39 399.95,555.69 401.43,555.98 402.92,556.28 404.4,556.57 405.88,556.86 407.37,557.16 408.85,557.45 410.33,557.74 411.82,558.04 413.3,558.33 414.78,558.62 416.26,558.91 417.75,559.21 419.23,559.5 420.71,559.79 422.19,560.08 423.68,560.37 425.16,560.66 426.64,560.95 428.12,561.23 429.61,561.52 431.09,561.81 432.57,562.1 434.06,562.38 435.54,562.67 437.02,562.96 438.5,563.24 439.99,563.53 441.47,563.81 442.95,564.09 444.44,564.38 445.92,564.66 447.4,564.94 448.89,565.22 450.37,565.5 451.86,565.78 453.34,566.06 454.82,566.34 456.31,566.62 457.79,566.89 459.28,567.17 460.76,567.44 462.25,567.72 463.73,567.99 465.22,568.27 466.71,568.54 468.19,568.81 469.68,569.08 471.17,569.35 472.65,569.62 474.14,569.89 475.63,570.16 477.12,570.42 478.61,570.69 480.09,570.96 481.58,571.22 483.07,571.48 484.56,571.75 486.05,572.01 487.54,572.27 489.03,572.53 490.53,572.79 492.02,573.04 493.51,573.3 495,573.56 496.49,573.82 497.99,574.07 499.48,574.33 500.97,574.59 502.46,574.85 503.95,575.12 505.44,575.38 506.93,575.65 508.42,575.92 509.91,576.19 511.4,576.47 512.88,576.75 514.37,577.03 515.85,577.32 517.33,577.62 518.82,577.91 520.29,578.22 521.77,578.53 523.25,578.84 524.72,579.17 526.19,579.49 527.66,579.83 529.13,580.17 530.6,580.52 532.06,580.88 533.52,581.25 534.98,581.62 536.44,582.01 537.89,582.4 539.34,582.8 540.79,583.21 542.23,583.64 543.67,584.07 545.11,584.51 546.55,584.97 547.98,585.43 549.41,585.91 550.83,586.39 552.25,586.89 553.67,587.4 555.08,587.92 556.49,588.45 557.9,588.99 559.3,589.54 560.69,590.1 562.09,590.68 563.48,591.26 564.86,591.86 566.24,592.46 567.62,593.08 568.99,593.71 570.36,594.35 571.72,595.01 573.08,595.67 574.43,596.35 575.78,597.04 577.12,597.74 578.46,598.45 579.79,599.17 581.12,599.91 582.44,600.65 583.75,601.41 585.06,602.19 586.35,602.97 587.64,603.77 588.93,604.58 590.2,605.41 591.46,606.24 592.71,607.09 593.95,607.96 595.18,608.84 596.4,609.73 597.61,610.64 598.81,611.56 599.99,612.5 601.16,613.45 602.31,614.41 603.45,615.39 604.58,616.39 605.69,617.4 606.79,618.43 607.86,619.47 608.93,620.53 609.97,621.6 611,622.69 612.01,623.8 613,624.92 613.98,626.06 614.93,627.22 615.87,628.39 616.78,629.58 617.68,630.79 618.56,632.01 619.42,633.24 620.26,634.49 621.09,635.75 621.91,637.02 622.71,638.3 623.5,639.59 624.27,640.9 625.04,642.21 625.79,643.52 626.53,644.85 627.26,646.18 627.99,647.52 628.7,648.86 629.41,650.21 630.11,651.56 630.8,652.91 631.49,654.26 632.17,655.62 632.85,656.98 633.51,658.34 634.17,659.7 634.82,661.07 635.47,662.44 636.1,663.82 636.72,665.19 637.33,666.57 637.94,667.96 638.53,669.35 639.11,670.74 639.68,672.14 640.24,673.54 640.79,674.94 641.34,676.35 641.87,677.75 642.39,679.17 642.91,680.58 643.42,682 643.92,683.42 644.42,684.85 644.9,686.27 645.38,687.7 645.86,689.13 646.32,690.56 646.79,692 647.24,693.44 647.7,694.88 648.14,696.32 648.58,697.76 649.02,699.2 649.46,700.65 649.89,702.1 650.31,703.54 650.74,704.99 651.16,706.44 651.58,707.9 652,709.35 652.41,710.8 652.83,712.25 653.24,713.71 653.65,715.16 654.06,716.62 654.48,718.07 654.89,719.53 655.3,720.98 655.7,722.44 656.1,723.9 656.5,725.35 656.9,726.81 657.28,728.27 657.66,729.73 658.03,731.2 658.39,732.66 658.75,734.13 659.09,735.6 659.42,737.07 659.73,738.54 660.04,740.02 660.33,741.5 660.6,742.98 660.86,744.47 661.1,745.96 661.32,747.45 661.52,748.94 661.71,750.44 661.87,751.95 662.01,753.45 662.13,754.96 662.23,756.48 662.3,758" style="stroke:#000;stroke-width:2.3;stroke-dasharray:4.1 2.1"/><path d="M395.5,557.4L396.95,557.82 398.4,558.24 399.84,558.66 401.29,559.08 402.74,559.51 404.18,559.94 405.63,560.38 407.07,560.81 408.52,561.25 409.96,561.7 411.4,562.14 412.84,562.59 414.29,563.04 415.72,563.5 417.16,563.96 418.6,564.42 420.04,564.89 421.47,565.36 422.9,565.83 424.34,566.31 425.77,566.79 427.34,567.37 428.86,568.01 430.33,568.71 431.75,569.47 433.13,570.28 434.46,571.14 435.76,572.05 437.01,573 438.22,574 439.39,575.05 440.52,576.13 441.62,577.25 442.68,578.41 443.71,579.6 444.71,580.82 445.68,582.07 446.63,583.34 447.54,584.65 448.43,585.97 449.29,587.31 450.14,588.68 450.96,590.05 451.76,591.44 452.54,592.85 453.3,594.26 454.05,595.67 454.79,597.1 455.51,598.52 456.22,599.95 456.92,601.37 457.61,602.79 458.3,604.2L469.4,702.8L478.4,704.5 488.9,705.7" style="stroke:#e8e8e8;stroke-width:2"/><path d="M395.5,557.4L396.95,557.82 398.4,558.24 399.84,558.66 401.29,559.08 402.74,559.51 404.18,559.94 405.63,560.38 407.07,560.81 408.52,561.25 409.96,561.7 411.4,562.14 412.84,562.59 414.29,563.04 415.72,563.5 417.16,563.96 418.6,564.42 420.04,564.89 421.47,565.36 422.9,565.83 424.34,566.31 425.77,566.79 427.2,567.27 428.62,567.76 430.05,568.26 431.47,568.75 432.9,569.25 434.32,569.76 435.74,570.27 437.16,570.79 438.57,571.3 439.99,571.83 441.35,572.57 442.7,573.33 444.05,574.11 445.38,574.92 446.7,575.75 448,576.6 449.29,577.48 450.56,578.38 451.82,579.3 453.05,580.24 454.28,581.21 455.48,582.2 456.66,583.21 457.82,584.24 458.96,585.3 460.08,586.38 461.17,587.48 462.24,588.6 463.28,589.75 464.3,590.92 465.29,592.1 466.26,593.31 467.2,594.55 468.1,595.8 468.98,597.08 469.82,598.37 470.64,599.69 471.42,601.03 472.17,602.39 472.88,603.77 473.56,605.17 474.2,606.6 474.81,608.04 475.38,609.51 475.91,610.99 476.4,612.5L479.9,625 482.6,640.3L488.9,705.7L501.7,708.6 514,711.3" style="stroke:#d6d6d6;stroke-width:2"/><path d="M395.5,557.4L396.95,557.82 398.4,558.24 399.84,558.66 401.29,559.08 402.74,559.51 404.18,559.94 405.63,560.38 407.07,560.81 408.52,561.25 409.96,561.7 411.4,562.14 412.84,562.59 414.29,563.04 415.72,563.5 417.16,563.96 418.6,564.42 420.04,564.89 421.47,565.36 422.9,565.83 424.34,566.31 425.77,566.79 427.2,567.27 428.62,567.76 430.05,568.26 431.47,568.75 432.9,569.25 434.32,569.76 435.74,570.27 437.16,570.79 438.57,571.3 439.99,571.83 441.4,572.36 442.81,572.89 444.22,573.43 445.62,573.97 447.03,574.52 448.43,575.07 449.83,575.63 451.24,576.27 452.65,576.93 454.04,577.61 455.43,578.31 456.81,579.02 458.17,579.75 459.53,580.5 460.87,581.27 462.2,582.06 463.52,582.87 464.82,583.69 466.11,584.54 467.38,585.4 468.64,586.28 469.88,587.19 471.1,588.11 472.3,589.06 473.49,590.02 474.65,591 475.79,592.01 476.92,593.04 478.02,594.08 479.1,595.15 480.15,596.24 481.18,597.36 482.19,598.49 483.17,599.65 484.13,600.83 485.06,602.03 485.96,603.25 486.84,604.49 487.69,605.75 488.52,607.03 489.32,608.33 490.09,609.65 490.85,610.98 491.57,612.33 492.28,613.7 492.96,615.07 493.61,616.47 494.25,617.87 494.86,619.29 495.45,620.72 496.01,622.16 496.55,623.61 497.07,625.07 497.57,626.53 498.05,628.01 498.5,629.49 498.94,630.98 499.35,632.47 499.74,633.97 500.11,635.47 500.46,636.97 500.8,638.48 501.11,639.99 501.4,641.5L507.6,701.6L510.5,706.5 514,711.3L515.46,711.62 516.93,711.94 518.4,712.26 519.87,712.59 521.35,712.93 522.82,713.27 524.3,713.61 525.79,713.96 527.27,714.32 528.75,714.68 530.24,715.05 531.72,715.42 533.21,715.8 534.7,716.19 536.18,716.58 537.67,716.98 539.16,717.39 540.64,717.8 542.12,718.23 543.6,718.66 545.08,719.1 546.56,719.55 548.04,720 549.51,720.47 550.98,720.95 552.45,721.43 553.91,721.93 555.37,722.43 556.82,722.95 558.27,723.47 559.72,724.01 561.16,724.55 562.59,725.11 564.03,725.68 565.45,726.26 566.87,726.85 568.28,727.46 569.69,728.07 571.08,728.7 572.47,729.35 573.86,730 575.23,730.67 576.6,731.35 577.96,732.05 579.31,732.75 580.65,733.48 581.99,734.22 583.31,734.97 584.62,735.73 585.93,736.52 587.22,737.31 588.5,738.13 589.78,738.96 591.04,739.8 592.29,740.66 593.52,741.54 594.75,742.43 595.96,743.34 597.16,744.27 598.35,745.22 599.53,746.18 600.69,747.16 601.84,748.16 602.97,749.18 604.09,750.21 605.19,751.27 606.28,752.34 607.36,753.43 608.42,754.54 609.46,755.68 610.49,756.83 611.5,758" style="stroke:#aaaaaa;stroke-width:2.2"/><path d="M395.5,557.4L396.95,557.82 398.4,558.24 399.84,558.66 401.29,559.08 402.74,559.51 404.18,559.94 405.63,560.38 407.07,560.81 408.52,561.25 409.96,561.7 411.4,562.14 412.84,562.59 414.29,563.04 415.72,563.5 417.16,563.96 418.6,564.42 420.04,564.89 421.47,565.36 422.9,565.83 424.34,566.31 425.77,566.79 427.2,567.27 428.62,567.76 430.05,568.26 431.47,568.75 432.9,569.25 434.32,569.76 435.74,570.27 437.16,570.79 438.57,571.3 439.99,571.83 441.4,572.36 442.81,572.89 444.22,573.43 445.62,573.97 447.03,574.52 448.43,575.07 449.83,575.63 451.23,576.19 452.62,576.76 454.01,577.33 455.4,577.91 456.79,578.5 458.18,579.09 459.56,579.68 460.94,580.28 462.32,580.89 463.69,581.5 465.06,582.12 466.43,582.74 467.8,583.37 469.16,584.01 470.52,584.65 471.88,585.3 473.23,585.95 474.58,586.61 475.93,587.28 477.28,587.95 478.62,588.63 479.96,589.32 481.29,590.01 482.62,590.71 483.95,591.42 485.27,592.13 486.6,592.85 487.91,593.57 489.23,594.3 490.54,595.04 491.85,595.78 493.16,596.53 494.46,597.29 495.76,598.05 497.06,598.81 498.35,599.58 499.64,600.36 500.93,601.14 502.21,601.93 503.49,602.72 504.77,603.52 506.05,604.32 507.32,605.13 508.59,605.95 509.86,606.76 511.12,607.59 512.39,608.41 513.64,609.25 514.9,610.08 516.15,610.93 517.4,611.77 518.65,612.62 519.9,613.48 521.14,614.34 522.38,615.2 523.62,616.07 524.85,616.94 526.08,617.82 527.31,618.7 528.54,619.58 529.77,620.47 530.99,621.36 532.21,622.25 533.42,623.15 534.64,624.06 535.85,624.96 537.06,625.87 538.27,626.78 539.47,627.7 540.68,628.62 541.88,629.54 543.08,630.46 544.27,631.39 545.46,632.32 546.66,633.25 547.85,634.19 549.03,635.13 550.22,636.07 551.4,637.01 552.58,637.96 553.76,638.91 554.93,639.86 556.11,640.81 557.28,641.77 558.45,642.73 559.61,643.69 560.78,644.65 561.94,645.62 563.09,646.59 564.24,647.57 565.39,648.55 566.54,649.53 567.68,650.52 568.81,651.51 569.95,652.5 571.07,653.5 572.19,654.5 573.31,655.51 574.42,656.52 575.53,657.54 576.63,658.57 577.72,659.59 578.81,660.63 579.89,661.67 580.97,662.71 582.04,663.76 583.1,664.82 584.16,665.88 585.21,666.95 586.25,668.03 587.28,669.11 588.31,670.2 589.33,671.29 590.34,672.39 591.34,673.5 592.33,674.62 593.32,675.74 594.3,676.87 595.26,678.01 596.22,679.16 597.17,680.31 598.11,681.48 599.04,682.65 599.96,683.83 600.87,685.02 601.77,686.21 602.66,687.42 603.54,688.63 604.41,689.86 605.27,691.09 606.11,692.33 606.95,693.58 607.77,694.84 608.58,696.11 609.38,697.39 610.17,698.68 610.95,699.98 611.71,701.29 612.47,702.61 613.21,703.94 613.94,705.27 614.67,706.61 615.38,707.96 616.09,709.31 616.78,710.67 617.47,712.04 618.15,713.41 618.82,714.78 619.49,716.16 620.15,717.54 620.8,718.92 621.45,720.31 622.09,721.7 622.73,723.09 623.36,724.48 623.99,725.87 624.61,727.26 625.23,728.65 625.84,730.03 626.46,731.42 627.07,732.81 627.67,734.19 628.28,735.57 628.88,736.94 629.49,738.32 630.09,739.69 630.68,741.06 631.26,742.43 631.83,743.8 632.39,745.18 632.93,746.56 633.46,747.95 633.96,749.35 634.44,750.76 634.89,752.18 635.32,753.61 635.71,755.06 636.07,756.52 636.4,758" style="stroke:#000;stroke-width:2.2"/></g><path d="M395.5,756.4v-6.4M395.5,549.4v6.4M416.56,756.4v-3.9M416.56,549.4v3.9M428.89,756.4v-3.9M428.89,549.4v3.9M437.63,756.4v-3.9M437.63,549.4v3.9M444.41,756.4v-3.9M444.41,549.4v3.9M449.95,756.4v-3.9M449.95,549.4v3.9M454.64,756.4v-3.9M454.64,549.4v3.9M458.69,756.4v-3.9M458.69,549.4v3.9M462.27,756.4v-3.9M462.27,549.4v3.9M465.48,756.4v-6.4M465.48,549.4v6.4M486.54,756.4v-3.9M486.54,549.4v3.9M498.86,756.4v-3.9M498.86,549.4v3.9M507.6,756.4v-3.9M507.6,549.4v3.9M514.39,756.4v-3.9M514.39,549.4v3.9M519.93,756.4v-3.9M519.93,549.4v3.9M524.61,756.4v-3.9M524.61,549.4v3.9M528.67,756.4v-3.9M528.67,549.4v3.9M532.25,756.4v-3.9M532.25,549.4v3.9M535.45,756.4v-6.4M535.45,549.4v6.4M556.51,756.4v-3.9M556.51,549.4v3.9M568.84,756.4v-3.9M568.84,549.4v3.9M577.58,756.4v-3.9M577.58,549.4v3.9M584.36,756.4v-3.9M584.36,549.4v3.9M589.9,756.4v-3.9M589.9,549.4v3.9M594.59,756.4v-3.9M594.59,549.4v3.9M598.64,756.4v-3.9M598.64,549.4v3.9M602.22,756.4v-3.9M602.22,549.4v3.9M605.42,756.4v-6.4M605.42,549.4v6.4M626.49,756.4v-3.9M626.49,549.4v3.9M638.81,756.4v-3.9M638.81,549.4v3.9M647.55,756.4v-3.9M647.55,549.4v3.9M654.34,756.4v-3.9M654.34,549.4v3.9M659.88,756.4v-3.9M659.88,549.4v3.9M664.56,756.4v-3.9M664.56,549.4v3.9M668.62,756.4v-3.9M668.62,549.4v3.9M672.2,756.4v-3.9M672.2,549.4v3.9M675.4,756.4v-6.4M675.4,549.4v6.4M395.5,756.4h3.9M675.4,756.4h-3.9M395.5,743.14h3.9M675.4,743.14h-3.9M395.5,735.38h3.9M675.4,735.38h-3.9M395.5,729.88h3.9M675.4,729.88h-3.9M395.5,725.61h6.4M675.4,725.61h-6.4M395.5,712.35h3.9M675.4,712.35h-3.9M395.5,699.09h3.9M675.4,699.09h-3.9M395.5,691.33h3.9M675.4,691.33h-3.9M395.5,685.83h3.9M675.4,685.83h-3.9M395.5,681.56h6.4M675.4,681.56h-6.4M395.5,668.3h3.9M675.4,668.3h-3.9M395.5,655.03h3.9M675.4,655.03h-3.9M395.5,647.28h3.9M675.4,647.28h-3.9M395.5,641.77h3.9M675.4,641.77h-3.9M395.5,637.5h6.4M675.4,637.5h-6.4M395.5,624.24h3.9M675.4,624.24h-3.9M395.5,610.98h3.9M675.4,610.98h-3.9M395.5,603.23h3.9M675.4,603.23h-3.9M395.5,597.72h3.9M675.4,597.72h-3.9M395.5,593.45h6.4M675.4,593.45h-6.4M395.5,580.19h3.9M675.4,580.19h-3.9M395.5,566.93h3.9M675.4,566.93h-3.9M395.5,559.17h3.9M675.4,559.17h-3.9M395.5,553.67h3.9M675.4,553.67h-3.9M395.5,549.4h6.4M675.4,549.4h-6.4" stroke="#222" stroke-width="1" fill="none"/><rect x="395.5" y="549.4" width="279.9" height="207" fill="none" stroke="#222" stroke-width="1.1"/><text class="sans" x="386.9" y="774.1" font-size="12">10<tspan font-size="7.6" dy="-3.9">4</tspan></text><text class="sans" x="456.88" y="774.1" font-size="12">10<tspan font-size="7.6" dy="-3.9">5</tspan></text><text class="sans" x="526.85" y="774.1" font-size="12">10<tspan font-size="7.6" dy="-3.9">6</tspan></text><text class="sans" x="596.82" y="774.1" font-size="12">10<tspan font-size="7.6" dy="-3.9">7</tspan></text><text class="sans" x="666.8" y="774.1" font-size="12">10<tspan font-size="7.6" dy="-3.9">8</tspan></text><text class="sans" x="391.9" y="730.41" font-size="12" text-anchor="end">10<tspan font-size="7.6" dy="-4.7">−11</tspan></text><text class="sans" x="391.9" y="686.36" font-size="12" text-anchor="end">10<tspan font-size="7.6" dy="-4.7">−10</tspan></text><text class="sans" x="391.9" y="642.3" font-size="12" text-anchor="end">10<tspan font-size="7.6" dy="-4.7">−9</tspan></text><text class="sans" x="391.9" y="598.25" font-size="12" text-anchor="end">10<tspan font-size="7.6" dy="-4.7">−8</tspan></text><text class="sans" x="391.9" y="554.2" font-size="12" text-anchor="end">10<tspan font-size="7.6" dy="-4.7">−7</tspan></text><text class="serif ttl" x="418.8" y="544.9" font-size="11.8" textLength="230.2" lengthAdjust="spacingAndGlyphs">n-sources, diffuse flux of <tspan font-style="italic">ν</tspan><tspan font-size="7.5" dy="2">e</tspan><tspan dy="-2">+</tspan><tspan font-style="italic">ν</tspan><tspan font-size="7.5" dy="2">e</tspan><tspan dy="-2">, IO, g</tspan><tspan font-size="7.5" dy="2"><tspan font-style="italic">ν</tspan>a</tspan><tspan dy="-2">=1 GeV</tspan><tspan font-size="6.5" dy="-3.6">-1</tspan></text><text class="serif" x="536" y="791.6" font-size="14.1" text-anchor="middle">E[GeV]</text><text class="serif" transform="translate(358.6,648.15) rotate(-90)" font-size="13.5" text-anchor="middle" textLength="132" lengthAdjust="spacingAndGlyphs">E<tspan font-size="9" dy="-5">2</tspan><tspan dy="5"> Φ</tspan><tspan font-size="8.5" dy="2">ν</tspan><tspan dy="-2"> [GeV cm</tspan><tspan font-size="9" dy="-5">-2</tspan><tspan dy="5">s</tspan><tspan font-size="9" dy="-5">-1</tspan><tspan dy="5">sr</tspan><tspan font-size="9" dy="-5">-1</tspan><tspan dy="5">]</tspan></text></g>
<path d="M64.9,145.7H88.8" fill="none" style="stroke:#000;stroke-width:2.3;stroke-dasharray:4.1 2.1"/>
<text class="serif" x="95.3" y="149.8" font-size="12" textLength="70.8" lengthAdjust="spacingAndGlyphs">no interaction</text>
<path d="M64.9,159.6H88.8" fill="none" style="stroke:#000;stroke-width:2.2"/>
<text class="serif" x="95.3" y="163.7" font-size="12" textLength="108.8" lengthAdjust="spacingAndGlyphs">extragal. propagation</text>
<path d="M64.9,174.6H88.8" fill="none" style="stroke:#aaaaaa;stroke-width:2.2"/>
<text class="serif" x="95.3" y="178.7" font-size="12" textLength="50.9" lengthAdjust="spacingAndGlyphs">l=0, b=90<tspan font-size="7.5" dy="-4.5">o</tspan></text>
<path d="M64.9,188.9H88.8" fill="none" style="stroke:#d6d6d6;stroke-width:2"/>
<text class="serif" x="95.3" y="193" font-size="12" textLength="50.9" lengthAdjust="spacingAndGlyphs">l=0, b=45<tspan font-size="7.5" dy="-4.5">o</tspan></text>
<path d="M64.9,203.5H88.8" fill="none" style="stroke:#e8e8e8;stroke-width:2"/>
<text class="serif" x="95.3" y="207.6" font-size="12" textLength="50.9" lengthAdjust="spacingAndGlyphs">l=0, b=20<tspan font-size="7.5" dy="-4.5">o</tspan></text>
<path d="M409.3,147.9H433.2" fill="none" style="stroke:#000;stroke-width:2.3;stroke-dasharray:4.1 2.1"/>
<text class="serif" x="439.7" y="152" font-size="12" textLength="70.8" lengthAdjust="spacingAndGlyphs">no interaction</text>
<path d="M409.3,162.3H433.2" fill="none" style="stroke:#000;stroke-width:2.2"/>
<text class="serif" x="439.7" y="166.4" font-size="12" textLength="108.8" lengthAdjust="spacingAndGlyphs">extragal. propagation</text>
<path d="M409.3,177H433.2" fill="none" style="stroke:#aaaaaa;stroke-width:2.2"/>
<text class="serif" x="439.7" y="181.1" font-size="12" textLength="50.9" lengthAdjust="spacingAndGlyphs">l=0, b=90<tspan font-size="7.5" dy="-4.5">o</tspan></text>
<path d="M409.3,191H433.2" fill="none" style="stroke:#d6d6d6;stroke-width:2"/>
<text class="serif" x="439.7" y="195.1" font-size="12" textLength="50.9" lengthAdjust="spacingAndGlyphs">l=0, b=45<tspan font-size="7.5" dy="-4.5">o</tspan></text>
<path d="M409.3,205.1H433.2" fill="none" style="stroke:#e8e8e8;stroke-width:2"/>
<text class="serif" x="439.7" y="209.2" font-size="12" textLength="50.9" lengthAdjust="spacingAndGlyphs">l=0, b=20<tspan font-size="7.5" dy="-4.5">o</tspan></text>
<path d="M67.1,409.8H91.2" fill="none" style="stroke:#000;stroke-width:2.3;stroke-dasharray:4.1 2.1"/>
<text class="serif" x="97.6" y="413.9" font-size="12" textLength="65.5" lengthAdjust="spacingAndGlyphs">no interaction</text>
<path d="M67.1,423.8H91.2" fill="none" style="stroke:#000;stroke-width:2.2"/>
<text class="serif" x="97.6" y="427.9" font-size="12" textLength="101" lengthAdjust="spacingAndGlyphs">extragal. propagation</text>
<path d="M67.1,438.1H91.2" fill="none" style="stroke:#aaaaaa;stroke-width:2.2"/>
<text class="serif" x="97.6" y="442.2" font-size="12" textLength="47" lengthAdjust="spacingAndGlyphs">l=0, b=90<tspan font-size="7.5" dy="-4.5">o</tspan></text>
<path d="M67.1,452.1H91.2" fill="none" style="stroke:#d6d6d6;stroke-width:2"/>
<text class="serif" x="97.6" y="456.2" font-size="12" textLength="47" lengthAdjust="spacingAndGlyphs">l=0, b=45<tspan font-size="7.5" dy="-4.5">o</tspan></text>
<path d="M67.1,466.1H91.2" fill="none" style="stroke:#e8e8e8;stroke-width:2"/>
<text class="serif" x="97.6" y="470.2" font-size="12" textLength="47" lengthAdjust="spacingAndGlyphs">l=0, b=20<tspan font-size="7.5" dy="-4.5">o</tspan></text>
<path d="M411,415.9H434.6" fill="none" style="stroke:#000;stroke-width:2.3;stroke-dasharray:4.1 2.1"/>
<text class="serif" x="441.4" y="420" font-size="12" textLength="65.5" lengthAdjust="spacingAndGlyphs">no interaction</text>
<path d="M411,429.9H434.6" fill="none" style="stroke:#000;stroke-width:2.2"/>
<text class="serif" x="441.4" y="434" font-size="12" textLength="101" lengthAdjust="spacingAndGlyphs">extragal. propagation</text>
<path d="M411,444.4H434.6" fill="none" style="stroke:#aaaaaa;stroke-width:2.2"/>
<text class="serif" x="441.4" y="448.5" font-size="12" textLength="47" lengthAdjust="spacingAndGlyphs">l=0, b=90<tspan font-size="7.5" dy="-4.5">o</tspan></text>
<path d="M411,458.4H434.6" fill="none" style="stroke:#d6d6d6;stroke-width:2"/>
<text class="serif" x="441.4" y="462.5" font-size="12" textLength="47" lengthAdjust="spacingAndGlyphs">l=0, b=45<tspan font-size="7.5" dy="-4.5">o</tspan></text>
<path d="M411,472.4H434.6" fill="none" style="stroke:#e8e8e8;stroke-width:2"/>
<text class="serif" x="441.4" y="476.5" font-size="12" textLength="47" lengthAdjust="spacingAndGlyphs">l=0, b=20<tspan font-size="7.5" dy="-4.5">o</tspan></text>
<path d="M64.8,669.7H88.9" fill="none" style="stroke:#000;stroke-width:2.3;stroke-dasharray:4.1 2.1"/>
<text class="serif" x="95.4" y="673.8" font-size="12" textLength="65.5" lengthAdjust="spacingAndGlyphs">no interaction</text>
<path d="M64.8,683.7H88.9" fill="none" style="stroke:#000;stroke-width:2.2"/>
<text class="serif" x="95.4" y="687.8" font-size="12" textLength="101" lengthAdjust="spacingAndGlyphs">extragal. propagation</text>
<path d="M64.8,698.4H88.9" fill="none" style="stroke:#aaaaaa;stroke-width:2.2"/>
<text class="serif" x="95.4" y="702.5" font-size="12" textLength="47" lengthAdjust="spacingAndGlyphs">l=0, b=90<tspan font-size="7.5" dy="-4.5">o</tspan></text>
<path d="M64.8,712.4H88.9" fill="none" style="stroke:#d6d6d6;stroke-width:2"/>
<text class="serif" x="95.4" y="716.5" font-size="12" textLength="47" lengthAdjust="spacingAndGlyphs">l=0, b=45<tspan font-size="7.5" dy="-4.5">o</tspan></text>
<path d="M64.8,726.2H88.9" fill="none" style="stroke:#e8e8e8;stroke-width:2"/>
<text class="serif" x="95.4" y="730.3" font-size="12" textLength="47" lengthAdjust="spacingAndGlyphs">l=0, b=20<tspan font-size="7.5" dy="-4.5">o</tspan></text>
<path d="M407.5,716.8H431.1" fill="none" style="stroke:#aaaaaa;stroke-width:2.2"/>
<text class="serif" x="437.4" y="720.9" font-size="12" textLength="47" lengthAdjust="spacingAndGlyphs">l=0, b=90<tspan font-size="7.5" dy="-4.5">o</tspan></text>
<path d="M407.5,730.4H431.1" fill="none" style="stroke:#d6d6d6;stroke-width:2"/>
<text class="serif" x="437.4" y="734.5" font-size="12" textLength="47" lengthAdjust="spacingAndGlyphs">l=0, b=45<tspan font-size="7.5" dy="-4.5">o</tspan></text>
<path d="M407.5,743.9H431.1" fill="none" style="stroke:#e8e8e8;stroke-width:2"/>
<text class="serif" x="437.4" y="748" font-size="12" textLength="47" lengthAdjust="spacingAndGlyphs">l=0, b=20<tspan font-size="7.5" dy="-4.5">o</tspan></text>
<text class="serif" transform="translate(574.8,590.0) rotate(37.6)" font-size="11" textLength="60.5" lengthAdjust="spacingAndGlyphs">no interaction</text>
<text class="serif" transform="translate(550.4,631.9) rotate(40.8)" font-size="11.2" textLength="97.5" lengthAdjust="spacingAndGlyphs">extragal. propagation</text>
<path d="M203.81,3.48H208.68" stroke="#000" stroke-width="0.9" fill="none"/>
<path d="M559.66,3.48H564.48" stroke="#000" stroke-width="0.9" fill="none"/>
<path d="M210.07,272.58H214.71" stroke="#000" stroke-width="0.9" fill="none"/>
<path d="M557.95,272.58H562.53" stroke="#000" stroke-width="0.9" fill="none"/>
<path d="M194.07,537.68H198.92" stroke="#000" stroke-width="0.9" fill="none"/>
<path d="M559.2,537.68H564.03" stroke="#000" stroke-width="0.9" fill="none"/>
</svg></body></html>
